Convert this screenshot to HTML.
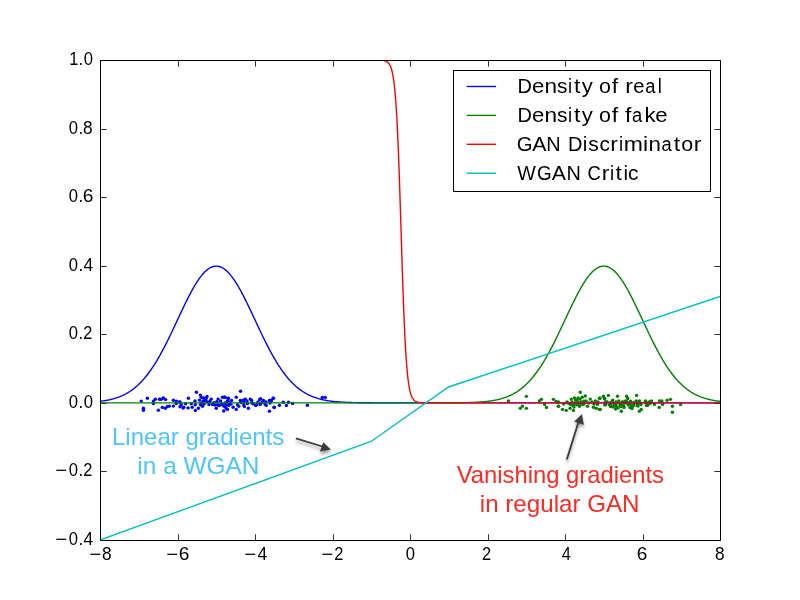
<!DOCTYPE html>
<html><head><meta charset="utf-8"><style>html,body{margin:0;padding:0;background:#fff;}svg{display:block;}</style></head><body><svg width="800" height="600" viewBox="0 0 800 600" style="will-change:transform"><rect width="800" height="600" fill="#fff"/><defs><clipPath id="ax"><rect x="100" y="60" width="620" height="480"/></clipPath><filter id="sh" x="-50%" y="-50%" width="200%" height="200%"><feGaussianBlur in="SourceAlpha" stdDeviation="1.5"/><feOffset dx="0" dy="2.5" result="b"/><feComponentTransfer><feFuncA type="linear" slope="0.35"/></feComponentTransfer><feMerge><feMergeNode/><feMergeNode in="SourceGraphic"/></feMerge></filter></defs><g clip-path="url(#ax)"><g fill="#0000ff"><circle cx="203.00" cy="401.00" r="1.7"/><circle cx="206.50" cy="401.50" r="1.7"/><circle cx="204.00" cy="404.00" r="1.7"/><circle cx="201.00" cy="403.00" r="1.7"/><circle cx="209.00" cy="404.50" r="1.7"/><circle cx="207.00" cy="396.50" r="1.7"/><circle cx="210.00" cy="401.00" r="1.7"/><circle cx="213.00" cy="404.00" r="1.7"/><circle cx="215.00" cy="405.00" r="1.7"/><circle cx="219.00" cy="405.50" r="1.7"/><circle cx="222.00" cy="404.00" r="1.7"/><circle cx="225.00" cy="403.00" r="1.7"/><circle cx="229.00" cy="402.00" r="1.7"/><circle cx="241.00" cy="402.50" r="1.7"/><circle cx="244.00" cy="402.00" r="1.7"/><circle cx="247.00" cy="401.00" r="1.7"/><circle cx="231.00" cy="404.00" r="1.7"/><circle cx="229.00" cy="403.00" r="1.7"/><circle cx="252.00" cy="403.00" r="1.7"/><circle cx="258.00" cy="402.00" r="1.7"/><circle cx="262.00" cy="402.50" r="1.7"/><circle cx="266.00" cy="402.00" r="1.7"/><circle cx="270.00" cy="403.00" r="1.7"/><circle cx="141.25" cy="401.10" r="1.7"/><circle cx="147.40" cy="398.30" r="1.7"/><circle cx="143.40" cy="408.30" r="1.7"/><circle cx="143.40" cy="410.20" r="1.7"/><circle cx="153.40" cy="401.10" r="1.7"/><circle cx="153.40" cy="403.60" r="1.7"/><circle cx="155.30" cy="399.25" r="1.7"/><circle cx="159.40" cy="399.25" r="1.7"/><circle cx="161.25" cy="399.25" r="1.7"/><circle cx="163.40" cy="398.00" r="1.7"/><circle cx="165.60" cy="399.60" r="1.7"/><circle cx="158.40" cy="410.20" r="1.7"/><circle cx="162.30" cy="407.40" r="1.7"/><circle cx="165.40" cy="408.30" r="1.7"/><circle cx="167.50" cy="406.40" r="1.7"/><circle cx="169.40" cy="406.10" r="1.7"/><circle cx="173.40" cy="400.20" r="1.7"/><circle cx="173.40" cy="406.10" r="1.7"/><circle cx="176.25" cy="401.10" r="1.7"/><circle cx="176.25" cy="403.60" r="1.7"/><circle cx="179.40" cy="402.00" r="1.7"/><circle cx="180.00" cy="406.75" r="1.7"/><circle cx="183.10" cy="408.00" r="1.7"/><circle cx="196.40" cy="392.25" r="1.7"/><circle cx="188.40" cy="398.20" r="1.7"/><circle cx="200.30" cy="395.10" r="1.7"/><circle cx="201.25" cy="397.25" r="1.7"/><circle cx="199.40" cy="400.10" r="1.7"/><circle cx="203.75" cy="397.90" r="1.7"/><circle cx="206.25" cy="398.20" r="1.7"/><circle cx="205.00" cy="400.40" r="1.7"/><circle cx="211.25" cy="399.10" r="1.7"/><circle cx="218.10" cy="399.10" r="1.7"/><circle cx="222.50" cy="397.25" r="1.7"/><circle cx="224.70" cy="397.25" r="1.7"/><circle cx="228.10" cy="398.50" r="1.7"/><circle cx="195.00" cy="401.00" r="1.7"/><circle cx="180.00" cy="402.00" r="1.7"/><circle cx="181.25" cy="404.75" r="1.7"/><circle cx="183.75" cy="407.25" r="1.7"/><circle cx="185.60" cy="403.80" r="1.7"/><circle cx="188.10" cy="407.90" r="1.7"/><circle cx="191.25" cy="403.80" r="1.7"/><circle cx="192.20" cy="407.25" r="1.7"/><circle cx="195.30" cy="404.75" r="1.7"/><circle cx="195.30" cy="410.40" r="1.7"/><circle cx="198.40" cy="408.20" r="1.7"/><circle cx="200.60" cy="404.75" r="1.7"/><circle cx="202.50" cy="406.30" r="1.7"/><circle cx="208.75" cy="402.60" r="1.7"/><circle cx="212.50" cy="404.40" r="1.7"/><circle cx="214.00" cy="402.60" r="1.7"/><circle cx="216.25" cy="408.20" r="1.7"/><circle cx="217.50" cy="404.75" r="1.7"/><circle cx="220.60" cy="404.75" r="1.7"/><circle cx="223.75" cy="406.00" r="1.7"/><circle cx="223.75" cy="411.00" r="1.7"/><circle cx="226.25" cy="408.50" r="1.7"/><circle cx="227.50" cy="401.60" r="1.7"/><circle cx="228.75" cy="404.75" r="1.7"/><circle cx="220.60" cy="401.00" r="1.7"/><circle cx="216.90" cy="401.60" r="1.7"/><circle cx="240.50" cy="391.30" r="1.7"/><circle cx="236.25" cy="397.25" r="1.7"/><circle cx="225.00" cy="397.25" r="1.7"/><circle cx="228.40" cy="398.20" r="1.7"/><circle cx="231.60" cy="400.40" r="1.7"/><circle cx="227.50" cy="401.00" r="1.7"/><circle cx="240.30" cy="400.40" r="1.7"/><circle cx="243.10" cy="400.10" r="1.7"/><circle cx="245.30" cy="399.10" r="1.7"/><circle cx="250.30" cy="399.10" r="1.7"/><circle cx="251.60" cy="400.40" r="1.7"/><circle cx="259.70" cy="399.40" r="1.7"/><circle cx="260.60" cy="398.80" r="1.7"/><circle cx="263.40" cy="400.40" r="1.7"/><circle cx="269.40" cy="400.40" r="1.7"/><circle cx="273.10" cy="398.20" r="1.7"/><circle cx="271.25" cy="400.40" r="1.7"/><circle cx="226.25" cy="404.75" r="1.7"/><circle cx="228.75" cy="405.40" r="1.7"/><circle cx="227.50" cy="409.40" r="1.7"/><circle cx="233.10" cy="407.25" r="1.7"/><circle cx="236.25" cy="409.40" r="1.7"/><circle cx="237.50" cy="404.75" r="1.7"/><circle cx="238.75" cy="406.30" r="1.7"/><circle cx="243.75" cy="404.75" r="1.7"/><circle cx="244.40" cy="406.60" r="1.7"/><circle cx="247.50" cy="403.50" r="1.7"/><circle cx="248.40" cy="408.20" r="1.7"/><circle cx="253.10" cy="403.80" r="1.7"/><circle cx="255.60" cy="405.40" r="1.7"/><circle cx="256.90" cy="404.75" r="1.7"/><circle cx="260.30" cy="404.40" r="1.7"/><circle cx="265.00" cy="404.10" r="1.7"/><circle cx="266.25" cy="405.40" r="1.7"/><circle cx="269.40" cy="411.30" r="1.7"/><circle cx="274.00" cy="407.25" r="1.7"/><circle cx="225.00" cy="406.60" r="1.7"/><circle cx="273.50" cy="398.25" r="1.7"/><circle cx="271.30" cy="400.40" r="1.7"/><circle cx="274.40" cy="407.40" r="1.7"/><circle cx="279.45" cy="405.25" r="1.7"/><circle cx="283.30" cy="402.20" r="1.7"/><circle cx="286.40" cy="405.40" r="1.7"/><circle cx="288.50" cy="402.20" r="1.7"/><circle cx="292.60" cy="403.50" r="1.7"/><circle cx="307.40" cy="405.25" r="1.7"/><circle cx="322.30" cy="397.40" r="1.7"/><circle cx="325.30" cy="397.40" r="1.7"/></g><g fill="#008000"><circle cx="607.00" cy="402.00" r="1.7"/><circle cx="610.00" cy="403.00" r="1.7"/><circle cx="612.00" cy="401.50" r="1.7"/><circle cx="611.00" cy="405.50" r="1.7"/><circle cx="614.00" cy="403.50" r="1.7"/><circle cx="616.00" cy="405.00" r="1.7"/><circle cx="617.00" cy="407.50" r="1.7"/><circle cx="613.00" cy="407.00" r="1.7"/><circle cx="616.00" cy="402.00" r="1.7"/><circle cx="619.00" cy="402.50" r="1.7"/><circle cx="620.00" cy="405.00" r="1.7"/><circle cx="622.00" cy="404.00" r="1.7"/><circle cx="625.00" cy="403.00" r="1.7"/><circle cx="621.00" cy="406.50" r="1.7"/><circle cx="624.00" cy="407.50" r="1.7"/><circle cx="626.00" cy="401.50" r="1.7"/><circle cx="627.00" cy="402.00" r="1.7"/><circle cx="629.00" cy="403.50" r="1.7"/><circle cx="631.00" cy="405.00" r="1.7"/><circle cx="630.00" cy="407.50" r="1.7"/><circle cx="633.00" cy="406.00" r="1.7"/><circle cx="634.00" cy="402.50" r="1.7"/><circle cx="632.00" cy="408.50" r="1.7"/><circle cx="636.00" cy="402.00" r="1.7"/><circle cx="638.00" cy="403.50" r="1.7"/><circle cx="640.00" cy="402.50" r="1.7"/><circle cx="641.00" cy="404.50" r="1.7"/><circle cx="637.00" cy="405.50" r="1.7"/><circle cx="645.00" cy="402.00" r="1.7"/><circle cx="647.00" cy="403.50" r="1.7"/><circle cx="649.00" cy="402.00" r="1.7"/><circle cx="648.00" cy="405.00" r="1.7"/><circle cx="572.00" cy="402.00" r="1.7"/><circle cx="575.00" cy="403.00" r="1.7"/><circle cx="578.00" cy="402.50" r="1.7"/><circle cx="581.00" cy="402.00" r="1.7"/><circle cx="570.00" cy="404.00" r="1.7"/><circle cx="577.00" cy="400.00" r="1.7"/><circle cx="584.00" cy="404.00" r="1.7"/><circle cx="586.00" cy="401.00" r="1.7"/><circle cx="568.00" cy="403.00" r="1.7"/><circle cx="574.00" cy="407.00" r="1.7"/><circle cx="580.00" cy="404.00" r="1.7"/><circle cx="592.00" cy="402.00" r="1.7"/><circle cx="598.00" cy="402.00" r="1.7"/><circle cx="594.00" cy="404.00" r="1.7"/><circle cx="556.00" cy="401.50" r="1.7"/><circle cx="508.40" cy="401.00" r="1.7"/><circle cx="526.40" cy="396.35" r="1.7"/><circle cx="522.35" cy="406.25" r="1.7"/><circle cx="520.25" cy="408.35" r="1.7"/><circle cx="526.40" cy="408.35" r="1.7"/><circle cx="539.40" cy="401.00" r="1.7"/><circle cx="541.40" cy="399.35" r="1.7"/><circle cx="544.60" cy="404.40" r="1.7"/><circle cx="546.50" cy="407.40" r="1.7"/><circle cx="553.40" cy="399.35" r="1.7"/><circle cx="557.00" cy="402.10" r="1.7"/><circle cx="558.50" cy="406.25" r="1.7"/><circle cx="580.30" cy="392.25" r="1.7"/><circle cx="585.30" cy="396.00" r="1.7"/><circle cx="582.20" cy="397.25" r="1.7"/><circle cx="578.10" cy="397.90" r="1.7"/><circle cx="574.40" cy="397.90" r="1.7"/><circle cx="571.25" cy="399.10" r="1.7"/><circle cx="575.60" cy="400.10" r="1.7"/><circle cx="580.00" cy="399.10" r="1.7"/><circle cx="590.30" cy="399.10" r="1.7"/><circle cx="599.40" cy="398.20" r="1.7"/><circle cx="603.40" cy="396.30" r="1.7"/><circle cx="604.40" cy="398.50" r="1.7"/><circle cx="595.30" cy="401.00" r="1.7"/><circle cx="558.40" cy="402.00" r="1.7"/><circle cx="566.90" cy="402.00" r="1.7"/><circle cx="558.40" cy="406.30" r="1.7"/><circle cx="562.50" cy="409.40" r="1.7"/><circle cx="563.75" cy="404.10" r="1.7"/><circle cx="566.25" cy="410.40" r="1.7"/><circle cx="570.00" cy="408.20" r="1.7"/><circle cx="571.25" cy="404.75" r="1.7"/><circle cx="573.40" cy="410.40" r="1.7"/><circle cx="573.75" cy="405.40" r="1.7"/><circle cx="576.90" cy="404.75" r="1.7"/><circle cx="579.40" cy="406.30" r="1.7"/><circle cx="582.50" cy="404.40" r="1.7"/><circle cx="583.75" cy="401.30" r="1.7"/><circle cx="587.50" cy="406.30" r="1.7"/><circle cx="588.75" cy="402.90" r="1.7"/><circle cx="593.40" cy="407.25" r="1.7"/><circle cx="596.25" cy="408.20" r="1.7"/><circle cx="597.50" cy="404.40" r="1.7"/><circle cx="599.40" cy="409.40" r="1.7"/><circle cx="604.70" cy="404.75" r="1.7"/><circle cx="608.40" cy="395.40" r="1.7"/><circle cx="604.70" cy="398.50" r="1.7"/><circle cx="617.50" cy="396.30" r="1.7"/><circle cx="626.60" cy="396.30" r="1.7"/><circle cx="627.80" cy="398.50" r="1.7"/><circle cx="636.60" cy="395.40" r="1.7"/><circle cx="612.80" cy="400.10" r="1.7"/><circle cx="618.75" cy="401.00" r="1.7"/><circle cx="622.50" cy="401.60" r="1.7"/><circle cx="625.60" cy="401.00" r="1.7"/><circle cx="630.60" cy="401.30" r="1.7"/><circle cx="636.25" cy="401.00" r="1.7"/><circle cx="639.40" cy="401.00" r="1.7"/><circle cx="645.60" cy="401.00" r="1.7"/><circle cx="605.60" cy="401.60" r="1.7"/><circle cx="605.60" cy="404.75" r="1.7"/><circle cx="609.40" cy="404.75" r="1.7"/><circle cx="610.60" cy="406.60" r="1.7"/><circle cx="614.40" cy="406.00" r="1.7"/><circle cx="615.60" cy="409.10" r="1.7"/><circle cx="618.10" cy="407.90" r="1.7"/><circle cx="621.25" cy="411.30" r="1.7"/><circle cx="623.75" cy="406.00" r="1.7"/><circle cx="628.10" cy="404.75" r="1.7"/><circle cx="631.25" cy="407.25" r="1.7"/><circle cx="633.75" cy="404.75" r="1.7"/><circle cx="638.10" cy="406.00" r="1.7"/><circle cx="641.25" cy="409.40" r="1.7"/><circle cx="639.40" cy="411.30" r="1.7"/><circle cx="646.60" cy="405.40" r="1.7"/><circle cx="600.30" cy="409.40" r="1.7"/><circle cx="600.00" cy="398.20" r="1.7"/><circle cx="646.90" cy="405.50" r="1.7"/><circle cx="651.40" cy="401.00" r="1.7"/><circle cx="650.25" cy="403.25" r="1.7"/><circle cx="654.40" cy="404.40" r="1.7"/><circle cx="659.60" cy="401.00" r="1.7"/><circle cx="661.90" cy="401.00" r="1.7"/><circle cx="662.60" cy="404.40" r="1.7"/><circle cx="659.25" cy="407.40" r="1.7"/><circle cx="667.10" cy="400.25" r="1.7"/><circle cx="670.50" cy="399.35" r="1.7"/><circle cx="672.40" cy="406.25" r="1.7"/><circle cx="672.40" cy="412.25" r="1.7"/><circle cx="680.60" cy="404.40" r="1.7"/></g><path d="M100.00,401.34 L100.77,401.24 L101.55,401.15 L102.32,401.04 L103.10,400.93 L103.87,400.82 L104.65,400.69 L105.42,400.57 L106.20,400.43 L106.97,400.29 L107.75,400.14 L108.52,399.99 L109.30,399.82 L110.07,399.65 L110.85,399.47 L111.62,399.28 L112.40,399.09 L113.17,398.88 L113.95,398.66 L114.72,398.44 L115.50,398.20 L116.28,397.95 L117.05,397.69 L117.83,397.42 L118.60,397.14 L119.38,396.85 L120.15,396.54 L120.92,396.22 L121.70,395.89 L122.47,395.54 L123.25,395.18 L124.03,394.80 L124.80,394.41 L125.58,394.01 L126.35,393.58 L127.12,393.15 L127.90,392.69 L128.68,392.22 L129.45,391.73 L130.23,391.22 L131.00,390.69 L131.78,390.15 L132.55,389.59 L133.33,389.00 L134.10,388.40 L134.88,387.78 L135.65,387.13 L136.42,386.47 L137.20,385.78 L137.98,385.08 L138.75,384.35 L139.52,383.59 L140.30,382.82 L141.08,382.02 L141.85,381.20 L142.62,380.36 L143.40,379.49 L144.17,378.60 L144.95,377.69 L145.72,376.75 L146.50,375.79 L147.27,374.80 L148.05,373.79 L148.82,372.76 L149.60,371.70 L150.38,370.61 L151.15,369.50 L151.93,368.37 L152.70,367.21 L153.47,366.03 L154.25,364.83 L155.03,363.60 L155.80,362.35 L156.57,361.07 L157.35,359.77 L158.12,358.45 L158.90,357.11 L159.68,355.74 L160.45,354.36 L161.22,352.95 L162.00,351.52 L162.78,350.07 L163.55,348.61 L164.32,347.12 L165.10,345.62 L165.88,344.10 L166.65,342.57 L167.43,341.02 L168.20,339.45 L168.98,337.87 L169.75,336.28 L170.53,334.68 L171.30,333.06 L172.08,331.44 L172.85,329.80 L173.62,328.16 L174.40,326.52 L175.17,324.87 L175.95,323.21 L176.73,321.55 L177.50,319.90 L178.27,318.24 L179.05,316.58 L179.83,314.92 L180.60,313.27 L181.38,311.63 L182.15,309.99 L182.93,308.36 L183.70,306.74 L184.47,305.13 L185.25,303.53 L186.03,301.95 L186.80,300.39 L187.57,298.84 L188.35,297.31 L189.12,295.80 L189.90,294.31 L190.68,292.85 L191.45,291.41 L192.22,289.99 L193.00,288.61 L193.77,287.25 L194.55,285.93 L195.32,284.63 L196.10,283.37 L196.88,282.15 L197.65,280.96 L198.43,279.81 L199.20,278.70 L199.98,277.62 L200.75,276.59 L201.53,275.60 L202.30,274.66 L203.07,273.76 L203.85,272.90 L204.62,272.10 L205.40,271.33 L206.18,270.62 L206.95,269.96 L207.72,269.35 L208.50,268.79 L209.28,268.27 L210.05,267.82 L210.82,267.41 L211.60,267.06 L212.38,266.76 L213.15,266.51 L213.92,266.32 L214.70,266.19 L215.48,266.10 L216.25,266.08 L217.02,266.10 L217.80,266.19 L218.58,266.32 L219.35,266.51 L220.12,266.76 L220.90,267.06 L221.68,267.41 L222.45,267.82 L223.22,268.27 L224.00,268.79 L224.78,269.35 L225.55,269.96 L226.32,270.62 L227.10,271.33 L227.88,272.10 L228.65,272.90 L229.42,273.76 L230.20,274.66 L230.97,275.60 L231.75,276.59 L232.53,277.62 L233.30,278.70 L234.07,279.81 L234.85,280.96 L235.62,282.15 L236.40,283.37 L237.18,284.63 L237.95,285.93 L238.72,287.25 L239.50,288.61 L240.28,289.99 L241.05,291.41 L241.83,292.85 L242.60,294.31 L243.38,295.80 L244.15,297.31 L244.93,298.84 L245.70,300.39 L246.47,301.95 L247.25,303.53 L248.03,305.13 L248.80,306.74 L249.57,308.36 L250.35,309.99 L251.12,311.63 L251.90,313.27 L252.67,314.92 L253.45,316.58 L254.23,318.24 L255.00,319.90 L255.77,321.55 L256.55,323.21 L257.32,324.87 L258.10,326.52 L258.88,328.16 L259.65,329.80 L260.42,331.44 L261.20,333.06 L261.98,334.68 L262.75,336.28 L263.52,337.87 L264.30,339.45 L265.07,341.02 L265.85,342.57 L266.62,344.10 L267.40,345.62 L268.17,347.12 L268.95,348.61 L269.73,350.07 L270.50,351.52 L271.27,352.95 L272.05,354.36 L272.82,355.74 L273.60,357.11 L274.38,358.45 L275.15,359.77 L275.93,361.07 L276.70,362.35 L277.48,363.60 L278.25,364.83 L279.02,366.03 L279.80,367.21 L280.58,368.37 L281.35,369.50 L282.12,370.61 L282.90,371.70 L283.68,372.76 L284.45,373.79 L285.23,374.80 L286.00,375.79 L286.77,376.75 L287.55,377.69 L288.33,378.60 L289.10,379.49 L289.88,380.36 L290.65,381.20 L291.43,382.02 L292.20,382.82 L292.98,383.59 L293.75,384.35 L294.52,385.08 L295.30,385.78 L296.07,386.47 L296.85,387.13 L297.62,387.78 L298.40,388.40 L299.17,389.00 L299.95,389.59 L300.73,390.15 L301.50,390.69 L302.27,391.22 L303.05,391.73 L303.82,392.22 L304.60,392.69 L305.38,393.15 L306.15,393.58 L306.92,394.01 L307.70,394.41 L308.48,394.80 L309.25,395.18 L310.02,395.54 L310.80,395.89 L311.57,396.22 L312.35,396.54 L313.12,396.85 L313.90,397.14 L314.68,397.42 L315.45,397.69 L316.23,397.95 L317.00,398.20 L317.77,398.44 L318.55,398.66 L319.33,398.88 L320.10,399.09 L320.88,399.28 L321.65,399.47 L322.43,399.65 L323.20,399.82 L323.98,399.99 L324.75,400.14 L325.52,400.29 L326.30,400.43 L327.08,400.57 L327.85,400.69 L328.62,400.82 L329.40,400.93 L330.18,401.04 L330.95,401.15 L331.73,401.24 L332.50,401.34 L333.27,401.43 L334.05,401.51 L334.82,401.59 L335.60,401.67 L336.38,401.74 L337.15,401.80 L337.92,401.87 L338.70,401.93 L339.48,401.99 L340.25,402.04 L341.02,402.09 L341.80,402.14 L342.57,402.18 L343.35,402.23 L344.12,402.27 L344.90,402.30 L345.67,402.34 L346.45,402.37 L347.23,402.41 L348.00,402.43 L348.77,402.46 L349.55,402.49 L350.32,402.51 L351.10,402.54 L351.88,402.56 L352.65,402.58 L353.43,402.60 L354.20,402.62 L354.98,402.63 L355.75,402.65 L356.52,402.66 L357.30,402.68 L358.07,402.69 L358.85,402.70 L359.62,402.71 L360.40,402.72 L361.18,402.73 L361.95,402.74 L362.73,402.75 L363.50,402.76 L364.28,402.76 L365.05,402.77 L365.82,402.78 L366.60,402.78 L367.38,402.79 L368.15,402.79 L368.93,402.80 L369.70,402.80 L370.48,402.81 L371.25,402.81 L372.02,402.81 L372.80,402.82 L373.57,402.82 L374.35,402.82 L375.12,402.83 L375.90,402.83 L376.68,402.83 L377.45,402.83 L378.22,402.84 L379.00,402.84 L379.77,402.84 L380.55,402.84 L381.32,402.84 L382.10,402.84 L382.88,402.84 L383.65,402.85 L384.43,402.85 L385.20,402.85 L385.98,402.85 L386.75,402.85 L387.52,402.85 L388.30,402.85 L389.07,402.85 L389.85,402.85 L390.62,402.85 L391.40,402.85 L392.18,402.85 L392.95,402.85 L393.73,402.85 L394.50,402.85 L395.27,402.85 L396.05,402.85 L396.82,402.85 L397.60,402.85 L398.38,402.85 L399.15,402.86 L399.93,402.86 L400.70,402.86 L401.48,402.86 L402.25,402.86 L403.03,402.86 L403.80,402.86 L404.57,402.86 L405.35,402.86 L406.12,402.86 L406.90,402.86 L407.68,402.86 L408.45,402.86 L409.23,402.86 L410.00,402.86 L410.77,402.86 L411.55,402.86 L412.33,402.86 L413.10,402.86 L413.88,402.86 L414.65,402.86 L415.43,402.86 L416.20,402.86 L416.97,402.86 L417.75,402.86 L418.53,402.86 L419.30,402.86 L420.07,402.86 L420.85,402.86 L421.62,402.86 L422.40,402.86 L423.18,402.86 L423.95,402.86 L424.73,402.86 L425.50,402.86 L426.27,402.86 L427.05,402.86 L427.83,402.86 L428.60,402.86 L429.38,402.86 L430.15,402.86 L430.92,402.86 L431.70,402.86 L432.48,402.86 L433.25,402.86 L434.02,402.86 L434.80,402.86 L435.57,402.86 L436.35,402.86 L437.12,402.86 L437.90,402.86 L438.68,402.86 L439.45,402.86 L440.22,402.86 L441.00,402.86 L441.78,402.86 L442.55,402.86 L443.32,402.86 L444.10,402.86 L444.88,402.86 L445.65,402.86 L446.42,402.86 L447.20,402.86 L447.98,402.86 L448.75,402.86 L449.52,402.86 L450.30,402.86 L451.08,402.86 L451.85,402.86 L452.62,402.86 L453.40,402.86 L454.18,402.86 L454.95,402.86 L455.72,402.86 L456.50,402.86 L457.28,402.86 L458.05,402.86 L458.82,402.86 L459.60,402.86 L460.38,402.86 L461.15,402.86 L461.93,402.86 L462.70,402.86 L463.48,402.86 L464.25,402.86 L465.02,402.86 L465.80,402.86 L466.58,402.86 L467.35,402.86 L468.12,402.86 L468.90,402.86 L469.67,402.86 L470.45,402.86 L471.23,402.86 L472.00,402.86 L472.77,402.86 L473.55,402.86 L474.32,402.86 L475.10,402.86 L475.88,402.86 L476.65,402.86 L477.43,402.86 L478.20,402.86 L478.97,402.86 L479.75,402.86 L480.53,402.86 L481.30,402.86 L482.07,402.86 L482.85,402.86 L483.62,402.86 L484.40,402.86 L485.17,402.86 L485.95,402.86 L486.73,402.86 L487.50,402.86 L488.27,402.86 L489.05,402.86 L489.83,402.86 L490.60,402.86 L491.38,402.86 L492.15,402.86 L492.93,402.86 L493.70,402.86 L494.47,402.86 L495.25,402.86 L496.03,402.86 L496.80,402.86 L497.57,402.86 L498.35,402.86 L499.12,402.86 L499.90,402.86 L500.68,402.86 L501.45,402.86 L502.23,402.86 L503.00,402.86 L503.77,402.86 L504.55,402.86 L505.33,402.86 L506.10,402.86 L506.88,402.86 L507.65,402.86 L508.42,402.86 L509.20,402.86 L509.98,402.86 L510.75,402.86 L511.52,402.86 L512.30,402.86 L513.08,402.86 L513.85,402.86 L514.62,402.86 L515.40,402.86 L516.17,402.86 L516.95,402.86 L517.72,402.86 L518.50,402.86 L519.28,402.86 L520.05,402.86 L520.83,402.86 L521.60,402.86 L522.38,402.86 L523.15,402.86 L523.92,402.86 L524.70,402.86 L525.48,402.86 L526.25,402.86 L527.02,402.86 L527.80,402.86 L528.58,402.86 L529.35,402.86 L530.12,402.86 L530.90,402.86 L531.67,402.86 L532.45,402.86 L533.22,402.86 L534.00,402.86 L534.78,402.86 L535.55,402.86 L536.33,402.86 L537.10,402.86 L537.88,402.86 L538.65,402.86 L539.42,402.86 L540.20,402.86 L540.98,402.86 L541.75,402.86 L542.52,402.86 L543.30,402.86 L544.08,402.86 L544.85,402.86 L545.62,402.86 L546.40,402.86 L547.17,402.86 L547.95,402.86 L548.73,402.86 L549.50,402.86 L550.27,402.86 L551.05,402.86 L551.83,402.86 L552.60,402.86 L553.38,402.86 L554.15,402.86 L554.92,402.86 L555.70,402.86 L556.47,402.86 L557.25,402.86 L558.03,402.86 L558.80,402.86 L559.58,402.86 L560.35,402.86 L561.12,402.86 L561.90,402.86 L562.67,402.86 L563.45,402.86 L564.23,402.86 L565.00,402.86 L565.77,402.86 L566.55,402.86 L567.33,402.86 L568.10,402.86 L568.88,402.86 L569.65,402.86 L570.42,402.86 L571.20,402.86 L571.97,402.86 L572.75,402.86 L573.53,402.86 L574.30,402.86 L575.08,402.86 L575.85,402.86 L576.62,402.86 L577.40,402.86 L578.17,402.86 L578.95,402.86 L579.73,402.86 L580.50,402.86 L581.27,402.86 L582.05,402.86 L582.83,402.86 L583.60,402.86 L584.38,402.86 L585.15,402.86 L585.92,402.86 L586.70,402.86 L587.48,402.86 L588.25,402.86 L589.02,402.86 L589.80,402.86 L590.58,402.86 L591.35,402.86 L592.12,402.86 L592.90,402.86 L593.67,402.86 L594.45,402.86 L595.22,402.86 L596.00,402.86 L596.78,402.86 L597.55,402.86 L598.33,402.86 L599.10,402.86 L599.88,402.86 L600.65,402.86 L601.42,402.86 L602.20,402.86 L602.98,402.86 L603.75,402.86 L604.52,402.86 L605.30,402.86 L606.08,402.86 L606.85,402.86 L607.62,402.86 L608.40,402.86 L609.17,402.86 L609.95,402.86 L610.72,402.86 L611.50,402.86 L612.27,402.86 L613.05,402.86 L613.83,402.86 L614.60,402.86 L615.38,402.86 L616.15,402.86 L616.92,402.86 L617.70,402.86 L618.48,402.86 L619.25,402.86 L620.02,402.86 L620.80,402.86 L621.58,402.86 L622.35,402.86 L623.12,402.86 L623.90,402.86 L624.67,402.86 L625.45,402.86 L626.23,402.86 L627.00,402.86 L627.77,402.86 L628.55,402.86 L629.33,402.86 L630.10,402.86 L630.88,402.86 L631.65,402.86 L632.42,402.86 L633.20,402.86 L633.98,402.86 L634.75,402.86 L635.52,402.86 L636.30,402.86 L637.07,402.86 L637.85,402.86 L638.62,402.86 L639.40,402.86 L640.17,402.86 L640.95,402.86 L641.73,402.86 L642.50,402.86 L643.27,402.86 L644.05,402.86 L644.83,402.86 L645.60,402.86 L646.38,402.86 L647.15,402.86 L647.93,402.86 L648.70,402.86 L649.48,402.86 L650.25,402.86 L651.02,402.86 L651.80,402.86 L652.58,402.86 L653.35,402.86 L654.12,402.86 L654.90,402.86 L655.67,402.86 L656.45,402.86 L657.23,402.86 L658.00,402.86 L658.77,402.86 L659.55,402.86 L660.33,402.86 L661.10,402.86 L661.88,402.86 L662.65,402.86 L663.42,402.86 L664.20,402.86 L664.98,402.86 L665.75,402.86 L666.52,402.86 L667.30,402.86 L668.08,402.86 L668.85,402.86 L669.62,402.86 L670.40,402.86 L671.17,402.86 L671.95,402.86 L672.73,402.86 L673.50,402.86 L674.27,402.86 L675.05,402.86 L675.82,402.86 L676.60,402.86 L677.38,402.86 L678.15,402.86 L678.92,402.86 L679.70,402.86 L680.48,402.86 L681.25,402.86 L682.02,402.86 L682.80,402.86 L683.58,402.86 L684.35,402.86 L685.12,402.86 L685.90,402.86 L686.68,402.86 L687.45,402.86 L688.23,402.86 L689.00,402.86 L689.77,402.86 L690.55,402.86 L691.33,402.86 L692.10,402.86 L692.88,402.86 L693.65,402.86 L694.42,402.86 L695.20,402.86 L695.98,402.86 L696.75,402.86 L697.52,402.86 L698.30,402.86 L699.08,402.86 L699.85,402.86 L700.62,402.86 L701.40,402.86 L702.17,402.86 L702.95,402.86 L703.73,402.86 L704.50,402.86 L705.27,402.86 L706.05,402.86 L706.83,402.86 L707.60,402.86 L708.38,402.86 L709.15,402.86 L709.92,402.86 L710.70,402.86 L711.48,402.86 L712.25,402.86 L713.02,402.86 L713.80,402.86 L714.57,402.86 L715.35,402.86 L716.12,402.86 L716.90,402.86 L717.67,402.86 L718.45,402.86 L719.23,402.86 L720.00,402.86" fill="none" stroke="#0000ff" stroke-width="1.39"/><path d="M100.00,402.86 L100.77,402.86 L101.55,402.86 L102.32,402.86 L103.10,402.86 L103.87,402.86 L104.65,402.86 L105.42,402.86 L106.20,402.86 L106.97,402.86 L107.75,402.86 L108.52,402.86 L109.30,402.86 L110.07,402.86 L110.85,402.86 L111.62,402.86 L112.40,402.86 L113.17,402.86 L113.95,402.86 L114.72,402.86 L115.50,402.86 L116.28,402.86 L117.05,402.86 L117.83,402.86 L118.60,402.86 L119.38,402.86 L120.15,402.86 L120.92,402.86 L121.70,402.86 L122.47,402.86 L123.25,402.86 L124.03,402.86 L124.80,402.86 L125.58,402.86 L126.35,402.86 L127.12,402.86 L127.90,402.86 L128.68,402.86 L129.45,402.86 L130.23,402.86 L131.00,402.86 L131.78,402.86 L132.55,402.86 L133.33,402.86 L134.10,402.86 L134.88,402.86 L135.65,402.86 L136.42,402.86 L137.20,402.86 L137.98,402.86 L138.75,402.86 L139.52,402.86 L140.30,402.86 L141.08,402.86 L141.85,402.86 L142.62,402.86 L143.40,402.86 L144.17,402.86 L144.95,402.86 L145.72,402.86 L146.50,402.86 L147.27,402.86 L148.05,402.86 L148.82,402.86 L149.60,402.86 L150.38,402.86 L151.15,402.86 L151.93,402.86 L152.70,402.86 L153.47,402.86 L154.25,402.86 L155.03,402.86 L155.80,402.86 L156.57,402.86 L157.35,402.86 L158.12,402.86 L158.90,402.86 L159.68,402.86 L160.45,402.86 L161.22,402.86 L162.00,402.86 L162.78,402.86 L163.55,402.86 L164.32,402.86 L165.10,402.86 L165.88,402.86 L166.65,402.86 L167.43,402.86 L168.20,402.86 L168.98,402.86 L169.75,402.86 L170.53,402.86 L171.30,402.86 L172.08,402.86 L172.85,402.86 L173.62,402.86 L174.40,402.86 L175.17,402.86 L175.95,402.86 L176.73,402.86 L177.50,402.86 L178.27,402.86 L179.05,402.86 L179.83,402.86 L180.60,402.86 L181.38,402.86 L182.15,402.86 L182.93,402.86 L183.70,402.86 L184.47,402.86 L185.25,402.86 L186.03,402.86 L186.80,402.86 L187.57,402.86 L188.35,402.86 L189.12,402.86 L189.90,402.86 L190.68,402.86 L191.45,402.86 L192.22,402.86 L193.00,402.86 L193.77,402.86 L194.55,402.86 L195.32,402.86 L196.10,402.86 L196.88,402.86 L197.65,402.86 L198.43,402.86 L199.20,402.86 L199.98,402.86 L200.75,402.86 L201.53,402.86 L202.30,402.86 L203.07,402.86 L203.85,402.86 L204.62,402.86 L205.40,402.86 L206.18,402.86 L206.95,402.86 L207.72,402.86 L208.50,402.86 L209.28,402.86 L210.05,402.86 L210.82,402.86 L211.60,402.86 L212.38,402.86 L213.15,402.86 L213.92,402.86 L214.70,402.86 L215.48,402.86 L216.25,402.86 L217.02,402.86 L217.80,402.86 L218.58,402.86 L219.35,402.86 L220.12,402.86 L220.90,402.86 L221.68,402.86 L222.45,402.86 L223.22,402.86 L224.00,402.86 L224.78,402.86 L225.55,402.86 L226.32,402.86 L227.10,402.86 L227.88,402.86 L228.65,402.86 L229.42,402.86 L230.20,402.86 L230.97,402.86 L231.75,402.86 L232.53,402.86 L233.30,402.86 L234.07,402.86 L234.85,402.86 L235.62,402.86 L236.40,402.86 L237.18,402.86 L237.95,402.86 L238.72,402.86 L239.50,402.86 L240.28,402.86 L241.05,402.86 L241.83,402.86 L242.60,402.86 L243.38,402.86 L244.15,402.86 L244.93,402.86 L245.70,402.86 L246.47,402.86 L247.25,402.86 L248.03,402.86 L248.80,402.86 L249.57,402.86 L250.35,402.86 L251.12,402.86 L251.90,402.86 L252.67,402.86 L253.45,402.86 L254.23,402.86 L255.00,402.86 L255.77,402.86 L256.55,402.86 L257.32,402.86 L258.10,402.86 L258.88,402.86 L259.65,402.86 L260.42,402.86 L261.20,402.86 L261.98,402.86 L262.75,402.86 L263.52,402.86 L264.30,402.86 L265.07,402.86 L265.85,402.86 L266.62,402.86 L267.40,402.86 L268.17,402.86 L268.95,402.86 L269.73,402.86 L270.50,402.86 L271.27,402.86 L272.05,402.86 L272.82,402.86 L273.60,402.86 L274.38,402.86 L275.15,402.86 L275.93,402.86 L276.70,402.86 L277.48,402.86 L278.25,402.86 L279.02,402.86 L279.80,402.86 L280.58,402.86 L281.35,402.86 L282.12,402.86 L282.90,402.86 L283.68,402.86 L284.45,402.86 L285.23,402.86 L286.00,402.86 L286.77,402.86 L287.55,402.86 L288.33,402.86 L289.10,402.86 L289.88,402.86 L290.65,402.86 L291.43,402.86 L292.20,402.86 L292.98,402.86 L293.75,402.86 L294.52,402.86 L295.30,402.86 L296.07,402.86 L296.85,402.86 L297.62,402.86 L298.40,402.86 L299.17,402.86 L299.95,402.86 L300.73,402.86 L301.50,402.86 L302.27,402.86 L303.05,402.86 L303.82,402.86 L304.60,402.86 L305.38,402.86 L306.15,402.86 L306.92,402.86 L307.70,402.86 L308.48,402.86 L309.25,402.86 L310.02,402.86 L310.80,402.86 L311.57,402.86 L312.35,402.86 L313.12,402.86 L313.90,402.86 L314.68,402.86 L315.45,402.86 L316.23,402.86 L317.00,402.86 L317.77,402.86 L318.55,402.86 L319.33,402.86 L320.10,402.86 L320.88,402.86 L321.65,402.86 L322.43,402.86 L323.20,402.86 L323.98,402.86 L324.75,402.86 L325.52,402.86 L326.30,402.86 L327.08,402.86 L327.85,402.86 L328.62,402.86 L329.40,402.86 L330.18,402.86 L330.95,402.86 L331.73,402.86 L332.50,402.86 L333.27,402.86 L334.05,402.86 L334.82,402.86 L335.60,402.86 L336.38,402.86 L337.15,402.86 L337.92,402.86 L338.70,402.86 L339.48,402.86 L340.25,402.86 L341.02,402.86 L341.80,402.86 L342.57,402.86 L343.35,402.86 L344.12,402.86 L344.90,402.86 L345.67,402.86 L346.45,402.86 L347.23,402.86 L348.00,402.86 L348.77,402.86 L349.55,402.86 L350.32,402.86 L351.10,402.86 L351.88,402.86 L352.65,402.86 L353.43,402.86 L354.20,402.86 L354.98,402.86 L355.75,402.86 L356.52,402.86 L357.30,402.86 L358.07,402.86 L358.85,402.86 L359.62,402.86 L360.40,402.86 L361.18,402.86 L361.95,402.86 L362.73,402.86 L363.50,402.86 L364.28,402.86 L365.05,402.86 L365.82,402.86 L366.60,402.86 L367.38,402.86 L368.15,402.86 L368.93,402.86 L369.70,402.86 L370.48,402.86 L371.25,402.86 L372.02,402.86 L372.80,402.86 L373.57,402.86 L374.35,402.86 L375.12,402.86 L375.90,402.86 L376.68,402.86 L377.45,402.86 L378.22,402.86 L379.00,402.86 L379.77,402.86 L380.55,402.86 L381.32,402.86 L382.10,402.86 L382.88,402.86 L383.65,402.86 L384.43,402.86 L385.20,402.86 L385.98,402.86 L386.75,402.86 L387.52,402.86 L388.30,402.86 L389.07,402.86 L389.85,402.86 L390.62,402.86 L391.40,402.86 L392.18,402.86 L392.95,402.86 L393.73,402.86 L394.50,402.86 L395.27,402.86 L396.05,402.86 L396.82,402.86 L397.60,402.86 L398.38,402.86 L399.15,402.86 L399.93,402.86 L400.70,402.86 L401.48,402.86 L402.25,402.86 L403.03,402.86 L403.80,402.86 L404.57,402.86 L405.35,402.86 L406.12,402.86 L406.90,402.86 L407.68,402.86 L408.45,402.86 L409.23,402.86 L410.00,402.86 L410.77,402.86 L411.55,402.86 L412.33,402.86 L413.10,402.86 L413.88,402.86 L414.65,402.86 L415.43,402.86 L416.20,402.86 L416.97,402.86 L417.75,402.86 L418.53,402.86 L419.30,402.86 L420.07,402.86 L420.85,402.86 L421.62,402.85 L422.40,402.85 L423.18,402.85 L423.95,402.85 L424.73,402.85 L425.50,402.85 L426.27,402.85 L427.05,402.85 L427.83,402.85 L428.60,402.85 L429.38,402.85 L430.15,402.85 L430.92,402.85 L431.70,402.85 L432.48,402.85 L433.25,402.85 L434.02,402.85 L434.80,402.85 L435.57,402.85 L436.35,402.85 L437.12,402.84 L437.90,402.84 L438.68,402.84 L439.45,402.84 L440.22,402.84 L441.00,402.84 L441.78,402.84 L442.55,402.83 L443.32,402.83 L444.10,402.83 L444.88,402.83 L445.65,402.82 L446.42,402.82 L447.20,402.82 L447.98,402.81 L448.75,402.81 L449.52,402.81 L450.30,402.80 L451.08,402.80 L451.85,402.79 L452.62,402.79 L453.40,402.78 L454.18,402.78 L454.95,402.77 L455.72,402.76 L456.50,402.76 L457.28,402.75 L458.05,402.74 L458.82,402.73 L459.60,402.72 L460.38,402.71 L461.15,402.70 L461.93,402.69 L462.70,402.68 L463.48,402.66 L464.25,402.65 L465.02,402.63 L465.80,402.62 L466.58,402.60 L467.35,402.58 L468.12,402.56 L468.90,402.54 L469.67,402.51 L470.45,402.49 L471.23,402.46 L472.00,402.43 L472.77,402.41 L473.55,402.37 L474.32,402.34 L475.10,402.30 L475.88,402.27 L476.65,402.23 L477.43,402.18 L478.20,402.14 L478.97,402.09 L479.75,402.04 L480.53,401.99 L481.30,401.93 L482.07,401.87 L482.85,401.80 L483.62,401.74 L484.40,401.67 L485.17,401.59 L485.95,401.51 L486.73,401.43 L487.50,401.34 L488.27,401.24 L489.05,401.15 L489.83,401.04 L490.60,400.93 L491.38,400.82 L492.15,400.69 L492.93,400.57 L493.70,400.43 L494.47,400.29 L495.25,400.14 L496.03,399.99 L496.80,399.82 L497.57,399.65 L498.35,399.47 L499.12,399.28 L499.90,399.09 L500.68,398.88 L501.45,398.66 L502.23,398.44 L503.00,398.20 L503.77,397.95 L504.55,397.69 L505.33,397.42 L506.10,397.14 L506.88,396.85 L507.65,396.54 L508.42,396.22 L509.20,395.89 L509.98,395.54 L510.75,395.18 L511.52,394.80 L512.30,394.41 L513.08,394.01 L513.85,393.58 L514.62,393.15 L515.40,392.69 L516.17,392.22 L516.95,391.73 L517.72,391.22 L518.50,390.69 L519.28,390.15 L520.05,389.59 L520.83,389.00 L521.60,388.40 L522.38,387.78 L523.15,387.13 L523.92,386.47 L524.70,385.78 L525.48,385.08 L526.25,384.35 L527.02,383.59 L527.80,382.82 L528.58,382.02 L529.35,381.20 L530.12,380.36 L530.90,379.49 L531.67,378.60 L532.45,377.69 L533.22,376.75 L534.00,375.79 L534.78,374.80 L535.55,373.79 L536.33,372.76 L537.10,371.70 L537.88,370.61 L538.65,369.50 L539.42,368.37 L540.20,367.21 L540.98,366.03 L541.75,364.83 L542.52,363.60 L543.30,362.35 L544.08,361.07 L544.85,359.77 L545.62,358.45 L546.40,357.11 L547.17,355.74 L547.95,354.36 L548.73,352.95 L549.50,351.52 L550.27,350.07 L551.05,348.61 L551.83,347.12 L552.60,345.62 L553.38,344.10 L554.15,342.57 L554.92,341.02 L555.70,339.45 L556.47,337.87 L557.25,336.28 L558.03,334.68 L558.80,333.06 L559.58,331.44 L560.35,329.80 L561.12,328.16 L561.90,326.52 L562.67,324.87 L563.45,323.21 L564.23,321.55 L565.00,319.90 L565.77,318.24 L566.55,316.58 L567.33,314.92 L568.10,313.27 L568.88,311.63 L569.65,309.99 L570.42,308.36 L571.20,306.74 L571.97,305.13 L572.75,303.53 L573.53,301.95 L574.30,300.39 L575.08,298.84 L575.85,297.31 L576.62,295.80 L577.40,294.31 L578.17,292.85 L578.95,291.41 L579.73,289.99 L580.50,288.61 L581.27,287.25 L582.05,285.93 L582.83,284.63 L583.60,283.37 L584.38,282.15 L585.15,280.96 L585.92,279.81 L586.70,278.70 L587.48,277.62 L588.25,276.59 L589.02,275.60 L589.80,274.66 L590.58,273.76 L591.35,272.90 L592.12,272.10 L592.90,271.33 L593.67,270.62 L594.45,269.96 L595.22,269.35 L596.00,268.79 L596.78,268.27 L597.55,267.82 L598.33,267.41 L599.10,267.06 L599.88,266.76 L600.65,266.51 L601.42,266.32 L602.20,266.19 L602.98,266.10 L603.75,266.08 L604.52,266.10 L605.30,266.19 L606.08,266.32 L606.85,266.51 L607.62,266.76 L608.40,267.06 L609.17,267.41 L609.95,267.82 L610.72,268.27 L611.50,268.79 L612.27,269.35 L613.05,269.96 L613.83,270.62 L614.60,271.33 L615.38,272.10 L616.15,272.90 L616.92,273.76 L617.70,274.66 L618.48,275.60 L619.25,276.59 L620.02,277.62 L620.80,278.70 L621.58,279.81 L622.35,280.96 L623.12,282.15 L623.90,283.37 L624.67,284.63 L625.45,285.93 L626.23,287.25 L627.00,288.61 L627.77,289.99 L628.55,291.41 L629.33,292.85 L630.10,294.31 L630.88,295.80 L631.65,297.31 L632.42,298.84 L633.20,300.39 L633.98,301.95 L634.75,303.53 L635.52,305.13 L636.30,306.74 L637.07,308.36 L637.85,309.99 L638.62,311.63 L639.40,313.27 L640.17,314.92 L640.95,316.58 L641.73,318.24 L642.50,319.90 L643.27,321.55 L644.05,323.21 L644.83,324.87 L645.60,326.52 L646.38,328.16 L647.15,329.80 L647.93,331.44 L648.70,333.06 L649.48,334.68 L650.25,336.28 L651.02,337.87 L651.80,339.45 L652.58,341.02 L653.35,342.57 L654.12,344.10 L654.90,345.62 L655.67,347.12 L656.45,348.61 L657.23,350.07 L658.00,351.52 L658.77,352.95 L659.55,354.36 L660.33,355.74 L661.10,357.11 L661.88,358.45 L662.65,359.77 L663.42,361.07 L664.20,362.35 L664.98,363.60 L665.75,364.83 L666.52,366.03 L667.30,367.21 L668.08,368.37 L668.85,369.50 L669.62,370.61 L670.40,371.70 L671.17,372.76 L671.95,373.79 L672.73,374.80 L673.50,375.79 L674.27,376.75 L675.05,377.69 L675.82,378.60 L676.60,379.49 L677.38,380.36 L678.15,381.20 L678.92,382.02 L679.70,382.82 L680.48,383.59 L681.25,384.35 L682.02,385.08 L682.80,385.78 L683.58,386.47 L684.35,387.13 L685.12,387.78 L685.90,388.40 L686.68,389.00 L687.45,389.59 L688.23,390.15 L689.00,390.69 L689.77,391.22 L690.55,391.73 L691.33,392.22 L692.10,392.69 L692.88,393.15 L693.65,393.58 L694.42,394.01 L695.20,394.41 L695.98,394.80 L696.75,395.18 L697.52,395.54 L698.30,395.89 L699.08,396.22 L699.85,396.54 L700.62,396.85 L701.40,397.14 L702.17,397.42 L702.95,397.69 L703.73,397.95 L704.50,398.20 L705.27,398.44 L706.05,398.66 L706.83,398.88 L707.60,399.09 L708.38,399.28 L709.15,399.47 L709.92,399.65 L710.70,399.82 L711.48,399.99 L712.25,400.14 L713.02,400.29 L713.80,400.43 L714.57,400.57 L715.35,400.69 L716.12,400.82 L716.90,400.93 L717.67,401.04 L718.45,401.15 L719.23,401.24 L720.00,401.34" fill="none" stroke="#008000" stroke-width="1.39"/><path d="M100.00,60.00 L100.39,60.00 L100.77,60.00 L101.16,60.00 L101.55,60.00 L101.94,60.00 L102.32,60.00 L102.71,60.00 L103.10,60.00 L103.49,60.00 L103.87,60.00 L104.26,60.00 L104.65,60.00 L105.04,60.00 L105.42,60.00 L105.81,60.00 L106.20,60.00 L106.59,60.00 L106.97,60.00 L107.36,60.00 L107.75,60.00 L108.14,60.00 L108.52,60.00 L108.91,60.00 L109.30,60.00 L109.69,60.00 L110.07,60.00 L110.46,60.00 L110.85,60.00 L111.24,60.00 L111.62,60.00 L112.01,60.00 L112.40,60.00 L112.79,60.00 L113.17,60.00 L113.56,60.00 L113.95,60.00 L114.34,60.00 L114.72,60.00 L115.11,60.00 L115.50,60.00 L115.89,60.00 L116.28,60.00 L116.66,60.00 L117.05,60.00 L117.44,60.00 L117.83,60.00 L118.21,60.00 L118.60,60.00 L118.99,60.00 L119.38,60.00 L119.76,60.00 L120.15,60.00 L120.54,60.00 L120.92,60.00 L121.31,60.00 L121.70,60.00 L122.09,60.00 L122.47,60.00 L122.86,60.00 L123.25,60.00 L123.64,60.00 L124.03,60.00 L124.41,60.00 L124.80,60.00 L125.19,60.00 L125.58,60.00 L125.96,60.00 L126.35,60.00 L126.74,60.00 L127.12,60.00 L127.51,60.00 L127.90,60.00 L128.29,60.00 L128.68,60.00 L129.06,60.00 L129.45,60.00 L129.84,60.00 L130.23,60.00 L130.61,60.00 L131.00,60.00 L131.39,60.00 L131.78,60.00 L132.16,60.00 L132.55,60.00 L132.94,60.00 L133.33,60.00 L133.71,60.00 L134.10,60.00 L134.49,60.00 L134.88,60.00 L135.26,60.00 L135.65,60.00 L136.04,60.00 L136.42,60.00 L136.81,60.00 L137.20,60.00 L137.59,60.00 L137.98,60.00 L138.36,60.00 L138.75,60.00 L139.14,60.00 L139.52,60.00 L139.91,60.00 L140.30,60.00 L140.69,60.00 L141.08,60.00 L141.46,60.00 L141.85,60.00 L142.24,60.00 L142.62,60.00 L143.01,60.00 L143.40,60.00 L143.79,60.00 L144.17,60.00 L144.56,60.00 L144.95,60.00 L145.34,60.00 L145.72,60.00 L146.11,60.00 L146.50,60.00 L146.89,60.00 L147.27,60.00 L147.66,60.00 L148.05,60.00 L148.44,60.00 L148.82,60.00 L149.21,60.00 L149.60,60.00 L149.99,60.00 L150.38,60.00 L150.76,60.00 L151.15,60.00 L151.54,60.00 L151.93,60.00 L152.31,60.00 L152.70,60.00 L153.09,60.00 L153.47,60.00 L153.86,60.00 L154.25,60.00 L154.64,60.00 L155.03,60.00 L155.41,60.00 L155.80,60.00 L156.19,60.00 L156.57,60.00 L156.96,60.00 L157.35,60.00 L157.74,60.00 L158.12,60.00 L158.51,60.00 L158.90,60.00 L159.29,60.00 L159.68,60.00 L160.06,60.00 L160.45,60.00 L160.84,60.00 L161.22,60.00 L161.61,60.00 L162.00,60.00 L162.39,60.00 L162.78,60.00 L163.16,60.00 L163.55,60.00 L163.94,60.00 L164.32,60.00 L164.71,60.00 L165.10,60.00 L165.49,60.00 L165.88,60.00 L166.26,60.00 L166.65,60.00 L167.04,60.00 L167.43,60.00 L167.81,60.00 L168.20,60.00 L168.59,60.00 L168.98,60.00 L169.36,60.00 L169.75,60.00 L170.14,60.00 L170.53,60.00 L170.91,60.00 L171.30,60.00 L171.69,60.00 L172.08,60.00 L172.46,60.00 L172.85,60.00 L173.24,60.00 L173.62,60.00 L174.01,60.00 L174.40,60.00 L174.79,60.00 L175.17,60.00 L175.56,60.00 L175.95,60.00 L176.34,60.00 L176.73,60.00 L177.11,60.00 L177.50,60.00 L177.89,60.00 L178.27,60.00 L178.66,60.00 L179.05,60.00 L179.44,60.00 L179.83,60.00 L180.21,60.00 L180.60,60.00 L180.99,60.00 L181.38,60.00 L181.76,60.00 L182.15,60.00 L182.54,60.00 L182.93,60.00 L183.31,60.00 L183.70,60.00 L184.09,60.00 L184.47,60.00 L184.86,60.00 L185.25,60.00 L185.64,60.00 L186.03,60.00 L186.41,60.00 L186.80,60.00 L187.19,60.00 L187.57,60.00 L187.96,60.00 L188.35,60.00 L188.74,60.00 L189.12,60.00 L189.51,60.00 L189.90,60.00 L190.29,60.00 L190.68,60.00 L191.06,60.00 L191.45,60.00 L191.84,60.00 L192.22,60.00 L192.61,60.00 L193.00,60.00 L193.39,60.00 L193.77,60.00 L194.16,60.00 L194.55,60.00 L194.94,60.00 L195.32,60.00 L195.71,60.00 L196.10,60.00 L196.49,60.00 L196.88,60.00 L197.26,60.00 L197.65,60.00 L198.04,60.00 L198.43,60.00 L198.81,60.00 L199.20,60.00 L199.59,60.00 L199.98,60.00 L200.36,60.00 L200.75,60.00 L201.14,60.00 L201.53,60.00 L201.91,60.00 L202.30,60.00 L202.69,60.00 L203.07,60.00 L203.46,60.00 L203.85,60.00 L204.24,60.00 L204.62,60.00 L205.01,60.00 L205.40,60.00 L205.79,60.00 L206.18,60.00 L206.56,60.00 L206.95,60.00 L207.34,60.00 L207.72,60.00 L208.11,60.00 L208.50,60.00 L208.89,60.00 L209.28,60.00 L209.66,60.00 L210.05,60.00 L210.44,60.00 L210.82,60.00 L211.21,60.00 L211.60,60.00 L211.99,60.00 L212.38,60.00 L212.76,60.00 L213.15,60.00 L213.54,60.00 L213.92,60.00 L214.31,60.00 L214.70,60.00 L215.09,60.00 L215.48,60.00 L215.86,60.00 L216.25,60.00 L216.64,60.00 L217.02,60.00 L217.41,60.00 L217.80,60.00 L218.19,60.00 L218.58,60.00 L218.96,60.00 L219.35,60.00 L219.74,60.00 L220.12,60.00 L220.51,60.00 L220.90,60.00 L221.29,60.00 L221.68,60.00 L222.06,60.00 L222.45,60.00 L222.84,60.00 L223.22,60.00 L223.61,60.00 L224.00,60.00 L224.39,60.00 L224.78,60.00 L225.16,60.00 L225.55,60.00 L225.94,60.00 L226.32,60.00 L226.71,60.00 L227.10,60.00 L227.49,60.00 L227.88,60.00 L228.26,60.00 L228.65,60.00 L229.04,60.00 L229.42,60.00 L229.81,60.00 L230.20,60.00 L230.59,60.00 L230.97,60.00 L231.36,60.00 L231.75,60.00 L232.14,60.00 L232.53,60.00 L232.91,60.00 L233.30,60.00 L233.69,60.00 L234.07,60.00 L234.46,60.00 L234.85,60.00 L235.24,60.00 L235.62,60.00 L236.01,60.00 L236.40,60.00 L236.79,60.00 L237.18,60.00 L237.56,60.00 L237.95,60.00 L238.34,60.00 L238.72,60.00 L239.11,60.00 L239.50,60.00 L239.89,60.00 L240.28,60.00 L240.66,60.00 L241.05,60.00 L241.44,60.00 L241.83,60.00 L242.21,60.00 L242.60,60.00 L242.99,60.00 L243.38,60.00 L243.76,60.00 L244.15,60.00 L244.54,60.00 L244.93,60.00 L245.31,60.00 L245.70,60.00 L246.09,60.00 L246.47,60.00 L246.86,60.00 L247.25,60.00 L247.64,60.00 L248.03,60.00 L248.41,60.00 L248.80,60.00 L249.19,60.00 L249.57,60.00 L249.96,60.00 L250.35,60.00 L250.74,60.00 L251.12,60.00 L251.51,60.00 L251.90,60.00 L252.29,60.00 L252.67,60.00 L253.06,60.00 L253.45,60.00 L253.84,60.00 L254.23,60.00 L254.61,60.00 L255.00,60.00 L255.39,60.00 L255.77,60.00 L256.16,60.00 L256.55,60.00 L256.94,60.00 L257.32,60.00 L257.71,60.00 L258.10,60.00 L258.49,60.00 L258.88,60.00 L259.26,60.00 L259.65,60.00 L260.04,60.00 L260.42,60.00 L260.81,60.00 L261.20,60.00 L261.59,60.00 L261.98,60.00 L262.36,60.00 L262.75,60.00 L263.14,60.00 L263.52,60.00 L263.91,60.00 L264.30,60.00 L264.69,60.00 L265.07,60.00 L265.46,60.00 L265.85,60.00 L266.24,60.00 L266.62,60.00 L267.01,60.00 L267.40,60.00 L267.79,60.00 L268.17,60.00 L268.56,60.00 L268.95,60.00 L269.34,60.00 L269.73,60.00 L270.11,60.00 L270.50,60.00 L270.89,60.00 L271.27,60.00 L271.66,60.00 L272.05,60.00 L272.44,60.00 L272.82,60.00 L273.21,60.00 L273.60,60.00 L273.99,60.00 L274.38,60.00 L274.76,60.00 L275.15,60.00 L275.54,60.00 L275.93,60.00 L276.31,60.00 L276.70,60.00 L277.09,60.00 L277.48,60.00 L277.86,60.00 L278.25,60.00 L278.64,60.00 L279.02,60.00 L279.41,60.00 L279.80,60.00 L280.19,60.00 L280.58,60.00 L280.96,60.00 L281.35,60.00 L281.74,60.00 L282.12,60.00 L282.51,60.00 L282.90,60.00 L283.29,60.00 L283.68,60.00 L284.06,60.00 L284.45,60.00 L284.84,60.00 L285.23,60.00 L285.61,60.00 L286.00,60.00 L286.39,60.00 L286.77,60.00 L287.16,60.00 L287.55,60.00 L287.94,60.00 L288.33,60.00 L288.71,60.00 L289.10,60.00 L289.49,60.00 L289.88,60.00 L290.26,60.00 L290.65,60.00 L291.04,60.00 L291.43,60.00 L291.81,60.00 L292.20,60.00 L292.59,60.00 L292.98,60.00 L293.36,60.00 L293.75,60.00 L294.14,60.00 L294.52,60.00 L294.91,60.00 L295.30,60.00 L295.69,60.00 L296.07,60.00 L296.46,60.00 L296.85,60.00 L297.24,60.00 L297.62,60.00 L298.01,60.00 L298.40,60.00 L298.79,60.00 L299.17,60.00 L299.56,60.00 L299.95,60.00 L300.34,60.00 L300.73,60.00 L301.11,60.00 L301.50,60.00 L301.89,60.00 L302.27,60.00 L302.66,60.00 L303.05,60.00 L303.44,60.00 L303.82,60.00 L304.21,60.00 L304.60,60.00 L304.99,60.00 L305.38,60.00 L305.76,60.00 L306.15,60.00 L306.54,60.00 L306.92,60.00 L307.31,60.00 L307.70,60.00 L308.09,60.00 L308.48,60.00 L308.86,60.00 L309.25,60.00 L309.64,60.00 L310.02,60.00 L310.41,60.00 L310.80,60.00 L311.19,60.00 L311.57,60.00 L311.96,60.00 L312.35,60.00 L312.74,60.00 L313.12,60.00 L313.51,60.00 L313.90,60.00 L314.29,60.00 L314.68,60.00 L315.06,60.00 L315.45,60.00 L315.84,60.00 L316.23,60.00 L316.61,60.00 L317.00,60.00 L317.39,60.00 L317.77,60.00 L318.16,60.00 L318.55,60.00 L318.94,60.00 L319.33,60.00 L319.71,60.00 L320.10,60.00 L320.49,60.00 L320.88,60.00 L321.26,60.00 L321.65,60.00 L322.04,60.00 L322.43,60.00 L322.81,60.00 L323.20,60.00 L323.59,60.00 L323.98,60.00 L324.36,60.00 L324.75,60.00 L325.14,60.00 L325.52,60.00 L325.91,60.00 L326.30,60.00 L326.69,60.00 L327.08,60.00 L327.46,60.00 L327.85,60.00 L328.24,60.00 L328.62,60.00 L329.01,60.00 L329.40,60.00 L329.79,60.00 L330.18,60.00 L330.56,60.00 L330.95,60.00 L331.34,60.00 L331.73,60.00 L332.11,60.00 L332.50,60.00 L332.89,60.00 L333.27,60.00 L333.66,60.00 L334.05,60.00 L334.44,60.00 L334.82,60.00 L335.21,60.00 L335.60,60.00 L335.99,60.00 L336.38,60.00 L336.76,60.00 L337.15,60.00 L337.54,60.00 L337.92,60.00 L338.31,60.00 L338.70,60.00 L339.09,60.00 L339.48,60.00 L339.86,60.00 L340.25,60.00 L340.64,60.00 L341.02,60.00 L341.41,60.00 L341.80,60.00 L342.19,60.00 L342.57,60.00 L342.96,60.00 L343.35,60.00 L343.74,60.00 L344.12,60.00 L344.51,60.00 L344.90,60.00 L345.29,60.00 L345.67,60.00 L346.06,60.00 L346.45,60.00 L346.84,60.00 L347.23,60.00 L347.61,60.00 L348.00,60.00 L348.39,60.00 L348.77,60.00 L349.16,60.00 L349.55,60.00 L349.94,60.00 L350.32,60.00 L350.71,60.00 L351.10,60.00 L351.49,60.00 L351.88,60.00 L352.26,60.00 L352.65,60.00 L353.04,60.00 L353.43,60.00 L353.81,60.00 L354.20,60.00 L354.59,60.00 L354.98,60.00 L355.36,60.00 L355.75,60.00 L356.14,60.00 L356.52,60.00 L356.91,60.00 L357.30,60.00 L357.69,60.00 L358.07,60.00 L358.46,60.00 L358.85,60.00 L359.24,60.00 L359.62,60.00 L360.01,60.00 L360.40,60.00 L360.79,60.00 L361.18,60.00 L361.56,60.00 L361.95,60.00 L362.34,60.00 L362.73,60.00 L363.11,60.00 L363.50,60.00 L363.89,60.00 L364.28,60.00 L364.66,60.00 L365.05,60.00 L365.44,60.00 L365.82,60.00 L366.21,60.00 L366.60,60.00 L366.99,60.00 L367.38,60.00 L367.76,60.00 L368.15,60.00 L368.54,60.00 L368.93,60.00 L369.31,60.00 L369.70,60.00 L370.09,60.00 L370.48,60.00 L370.86,60.00 L371.25,60.00 L371.64,60.01 L372.02,60.01 L372.41,60.01 L372.80,60.01 L373.19,60.01 L373.57,60.01 L373.96,60.01 L374.35,60.02 L374.74,60.02 L375.12,60.02 L375.51,60.02 L375.90,60.03 L376.29,60.03 L376.68,60.04 L377.06,60.04 L377.45,60.05 L377.84,60.06 L378.22,60.07 L378.61,60.08 L379.00,60.09 L379.39,60.10 L379.77,60.12 L380.16,60.14 L380.55,60.16 L380.94,60.18 L381.32,60.21 L381.71,60.24 L382.10,60.28 L382.49,60.33 L382.88,60.38 L383.26,60.43 L383.65,60.50 L384.04,60.58 L384.43,60.67 L384.81,60.77 L385.20,60.90 L385.59,61.03 L385.98,61.20 L386.36,61.38 L386.75,61.60 L387.14,61.84 L387.52,62.13 L387.91,62.46 L388.30,62.84 L388.69,63.28 L389.07,63.79 L389.46,64.37 L389.85,65.04 L390.24,65.81 L390.62,66.70 L391.01,67.73 L391.40,68.90 L391.79,70.25 L392.18,71.79 L392.56,73.56 L392.95,75.58 L393.34,77.88 L393.73,80.50 L394.11,83.48 L394.50,86.86 L394.89,90.68 L395.27,94.98 L395.66,99.80 L396.05,105.19 L396.44,111.19 L396.82,117.83 L397.21,125.14 L397.60,133.14 L397.99,141.83 L398.38,151.20 L398.76,161.23 L399.15,171.87 L399.54,183.06 L399.93,194.72 L400.31,206.74 L400.70,219.02 L401.09,231.43 L401.48,243.84 L401.86,256.11 L402.25,268.14 L402.64,279.79 L403.03,290.99 L403.41,301.63 L403.80,311.66 L404.19,321.03 L404.57,329.72 L404.96,337.71 L405.35,345.02 L405.74,351.66 L406.12,357.66 L406.51,363.06 L406.90,367.88 L407.29,372.18 L407.68,375.99 L408.06,379.37 L408.45,382.35 L408.84,384.98 L409.23,387.28 L409.61,389.30 L410.00,391.07 L410.39,392.61 L410.77,393.96 L411.16,395.13 L411.55,396.15 L411.94,397.04 L412.33,397.82 L412.71,398.49 L413.10,399.07 L413.49,399.58 L413.88,400.02 L414.26,400.40 L414.65,400.73 L415.04,401.01 L415.43,401.26 L415.81,401.48 L416.20,401.66 L416.59,401.82 L416.97,401.96 L417.36,402.08 L417.75,402.19 L418.14,402.28 L418.53,402.36 L418.91,402.42 L419.30,402.48 L419.69,402.53 L420.07,402.58 L420.46,402.61 L420.85,402.65 L421.24,402.68 L421.62,402.70 L422.01,402.72 L422.40,402.74 L422.79,402.76 L423.18,402.77 L423.56,402.78 L423.95,402.79 L424.34,402.80 L424.73,402.81 L425.11,402.81 L425.50,402.82 L425.89,402.83 L426.27,402.83 L426.66,402.83 L427.05,402.84 L427.44,402.84 L427.83,402.84 L428.21,402.84 L428.60,402.85 L428.99,402.85 L429.38,402.85 L429.76,402.85 L430.15,402.85 L430.54,402.85 L430.92,402.85 L431.31,402.85 L431.70,402.85 L432.09,402.85 L432.48,402.85 L432.86,402.85 L433.25,402.86 L433.64,402.86 L434.02,402.86 L434.41,402.86 L434.80,402.86 L435.19,402.86 L435.57,402.86 L435.96,402.86 L436.35,402.86 L436.74,402.86 L437.12,402.86 L437.51,402.86 L437.90,402.86 L438.29,402.86 L438.68,402.86 L439.06,402.86 L439.45,402.86 L439.84,402.86 L440.22,402.86 L440.61,402.86 L441.00,402.86 L441.39,402.86 L441.78,402.86 L442.16,402.86 L442.55,402.86 L442.94,402.86 L443.32,402.86 L443.71,402.86 L444.10,402.86 L444.49,402.86 L444.88,402.86 L445.26,402.86 L445.65,402.86 L446.04,402.86 L446.42,402.86 L446.81,402.86 L447.20,402.86 L447.59,402.86 L447.98,402.86 L448.36,402.86 L448.75,402.86 L449.14,402.86 L449.52,402.86 L449.91,402.86 L450.30,402.86 L450.69,402.86 L451.08,402.86 L451.46,402.86 L451.85,402.86 L452.24,402.86 L452.62,402.86 L453.01,402.86 L453.40,402.86 L453.79,402.86 L454.18,402.86 L454.56,402.86 L454.95,402.86 L455.34,402.86 L455.72,402.86 L456.11,402.86 L456.50,402.86 L456.89,402.86 L457.28,402.86 L457.66,402.86 L458.05,402.86 L458.44,402.86 L458.82,402.86 L459.21,402.86 L459.60,402.86 L459.99,402.86 L460.38,402.86 L460.76,402.86 L461.15,402.86 L461.54,402.86 L461.93,402.86 L462.31,402.86 L462.70,402.86 L463.09,402.86 L463.48,402.86 L463.86,402.86 L464.25,402.86 L464.64,402.86 L465.02,402.86 L465.41,402.86 L465.80,402.86 L466.19,402.86 L466.58,402.86 L466.96,402.86 L467.35,402.86 L467.74,402.86 L468.12,402.86 L468.51,402.86 L468.90,402.86 L469.29,402.86 L469.67,402.86 L470.06,402.86 L470.45,402.86 L470.84,402.86 L471.23,402.86 L471.61,402.86 L472.00,402.86 L472.39,402.86 L472.77,402.86 L473.16,402.86 L473.55,402.86 L473.94,402.86 L474.32,402.86 L474.71,402.86 L475.10,402.86 L475.49,402.86 L475.88,402.86 L476.26,402.86 L476.65,402.86 L477.04,402.86 L477.43,402.86 L477.81,402.86 L478.20,402.86 L478.59,402.86 L478.97,402.86 L479.36,402.86 L479.75,402.86 L480.14,402.86 L480.53,402.86 L480.91,402.86 L481.30,402.86 L481.69,402.86 L482.07,402.86 L482.46,402.86 L482.85,402.86 L483.24,402.86 L483.62,402.86 L484.01,402.86 L484.40,402.86 L484.79,402.86 L485.17,402.86 L485.56,402.86 L485.95,402.86 L486.34,402.86 L486.73,402.86 L487.11,402.86 L487.50,402.86 L487.89,402.86 L488.27,402.86 L488.66,402.86 L489.05,402.86 L489.44,402.86 L489.83,402.86 L490.21,402.86 L490.60,402.86 L490.99,402.86 L491.38,402.86 L491.76,402.86 L492.15,402.86 L492.54,402.86 L492.93,402.86 L493.31,402.86 L493.70,402.86 L494.09,402.86 L494.47,402.86 L494.86,402.86 L495.25,402.86 L495.64,402.86 L496.03,402.86 L496.41,402.86 L496.80,402.86 L497.19,402.86 L497.57,402.86 L497.96,402.86 L498.35,402.86 L498.74,402.86 L499.12,402.86 L499.51,402.86 L499.90,402.86 L500.29,402.86 L500.68,402.86 L501.06,402.86 L501.45,402.86 L501.84,402.86 L502.23,402.86 L502.61,402.86 L503.00,402.86 L503.39,402.86 L503.77,402.86 L504.16,402.86 L504.55,402.86 L504.94,402.86 L505.33,402.86 L505.71,402.86 L506.10,402.86 L506.49,402.86 L506.88,402.86 L507.26,402.86 L507.65,402.86 L508.04,402.86 L508.42,402.86 L508.81,402.86 L509.20,402.86 L509.59,402.86 L509.98,402.86 L510.36,402.86 L510.75,402.86 L511.14,402.86 L511.52,402.86 L511.91,402.86 L512.30,402.86 L512.69,402.86 L513.08,402.86 L513.46,402.86 L513.85,402.86 L514.24,402.86 L514.62,402.86 L515.01,402.86 L515.40,402.86 L515.79,402.86 L516.17,402.86 L516.56,402.86 L516.95,402.86 L517.34,402.86 L517.72,402.86 L518.11,402.86 L518.50,402.86 L518.89,402.86 L519.28,402.86 L519.66,402.86 L520.05,402.86 L520.44,402.86 L520.83,402.86 L521.21,402.86 L521.60,402.86 L521.99,402.86 L522.38,402.86 L522.76,402.86 L523.15,402.86 L523.54,402.86 L523.92,402.86 L524.31,402.86 L524.70,402.86 L525.09,402.86 L525.48,402.86 L525.86,402.86 L526.25,402.86 L526.64,402.86 L527.02,402.86 L527.41,402.86 L527.80,402.86 L528.19,402.86 L528.58,402.86 L528.96,402.86 L529.35,402.86 L529.74,402.86 L530.12,402.86 L530.51,402.86 L530.90,402.86 L531.29,402.86 L531.67,402.86 L532.06,402.86 L532.45,402.86 L532.84,402.86 L533.22,402.86 L533.61,402.86 L534.00,402.86 L534.39,402.86 L534.78,402.86 L535.16,402.86 L535.55,402.86 L535.94,402.86 L536.33,402.86 L536.71,402.86 L537.10,402.86 L537.49,402.86 L537.88,402.86 L538.26,402.86 L538.65,402.86 L539.04,402.86 L539.42,402.86 L539.81,402.86 L540.20,402.86 L540.59,402.86 L540.98,402.86 L541.36,402.86 L541.75,402.86 L542.14,402.86 L542.52,402.86 L542.91,402.86 L543.30,402.86 L543.69,402.86 L544.08,402.86 L544.46,402.86 L544.85,402.86 L545.24,402.86 L545.62,402.86 L546.01,402.86 L546.40,402.86 L546.79,402.86 L547.17,402.86 L547.56,402.86 L547.95,402.86 L548.34,402.86 L548.73,402.86 L549.11,402.86 L549.50,402.86 L549.89,402.86 L550.27,402.86 L550.66,402.86 L551.05,402.86 L551.44,402.86 L551.83,402.86 L552.21,402.86 L552.60,402.86 L552.99,402.86 L553.38,402.86 L553.76,402.86 L554.15,402.86 L554.54,402.86 L554.92,402.86 L555.31,402.86 L555.70,402.86 L556.09,402.86 L556.47,402.86 L556.86,402.86 L557.25,402.86 L557.64,402.86 L558.03,402.86 L558.41,402.86 L558.80,402.86 L559.19,402.86 L559.58,402.86 L559.96,402.86 L560.35,402.86 L560.74,402.86 L561.12,402.86 L561.51,402.86 L561.90,402.86 L562.29,402.86 L562.67,402.86 L563.06,402.86 L563.45,402.86 L563.84,402.86 L564.23,402.86 L564.61,402.86 L565.00,402.86 L565.39,402.86 L565.77,402.86 L566.16,402.86 L566.55,402.86 L566.94,402.86 L567.33,402.86 L567.71,402.86 L568.10,402.86 L568.49,402.86 L568.88,402.86 L569.26,402.86 L569.65,402.86 L570.04,402.86 L570.42,402.86 L570.81,402.86 L571.20,402.86 L571.59,402.86 L571.97,402.86 L572.36,402.86 L572.75,402.86 L573.14,402.86 L573.53,402.86 L573.91,402.86 L574.30,402.86 L574.69,402.86 L575.08,402.86 L575.46,402.86 L575.85,402.86 L576.24,402.86 L576.62,402.86 L577.01,402.86 L577.40,402.86 L577.79,402.86 L578.17,402.86 L578.56,402.86 L578.95,402.86 L579.34,402.86 L579.73,402.86 L580.11,402.86 L580.50,402.86 L580.89,402.86 L581.27,402.86 L581.66,402.86 L582.05,402.86 L582.44,402.86 L582.83,402.86 L583.21,402.86 L583.60,402.86 L583.99,402.86 L584.38,402.86 L584.76,402.86 L585.15,402.86 L585.54,402.86 L585.92,402.86 L586.31,402.86 L586.70,402.86 L587.09,402.86 L587.48,402.86 L587.86,402.86 L588.25,402.86 L588.64,402.86 L589.02,402.86 L589.41,402.86 L589.80,402.86 L590.19,402.86 L590.58,402.86 L590.96,402.86 L591.35,402.86 L591.74,402.86 L592.12,402.86 L592.51,402.86 L592.90,402.86 L593.29,402.86 L593.67,402.86 L594.06,402.86 L594.45,402.86 L594.84,402.86 L595.22,402.86 L595.61,402.86 L596.00,402.86 L596.39,402.86 L596.78,402.86 L597.16,402.86 L597.55,402.86 L597.94,402.86 L598.33,402.86 L598.71,402.86 L599.10,402.86 L599.49,402.86 L599.88,402.86 L600.26,402.86 L600.65,402.86 L601.04,402.86 L601.42,402.86 L601.81,402.86 L602.20,402.86 L602.59,402.86 L602.98,402.86 L603.36,402.86 L603.75,402.86 L604.14,402.86 L604.52,402.86 L604.91,402.86 L605.30,402.86 L605.69,402.86 L606.08,402.86 L606.46,402.86 L606.85,402.86 L607.24,402.86 L607.62,402.86 L608.01,402.86 L608.40,402.86 L608.79,402.86 L609.17,402.86 L609.56,402.86 L609.95,402.86 L610.34,402.86 L610.72,402.86 L611.11,402.86 L611.50,402.86 L611.89,402.86 L612.27,402.86 L612.66,402.86 L613.05,402.86 L613.44,402.86 L613.83,402.86 L614.21,402.86 L614.60,402.86 L614.99,402.86 L615.38,402.86 L615.76,402.86 L616.15,402.86 L616.54,402.86 L616.92,402.86 L617.31,402.86 L617.70,402.86 L618.09,402.86 L618.48,402.86 L618.86,402.86 L619.25,402.86 L619.64,402.86 L620.02,402.86 L620.41,402.86 L620.80,402.86 L621.19,402.86 L621.58,402.86 L621.96,402.86 L622.35,402.86 L622.74,402.86 L623.12,402.86 L623.51,402.86 L623.90,402.86 L624.29,402.86 L624.67,402.86 L625.06,402.86 L625.45,402.86 L625.84,402.86 L626.23,402.86 L626.61,402.86 L627.00,402.86 L627.39,402.86 L627.77,402.86 L628.16,402.86 L628.55,402.86 L628.94,402.86 L629.33,402.86 L629.71,402.86 L630.10,402.86 L630.49,402.86 L630.88,402.86 L631.26,402.86 L631.65,402.86 L632.04,402.86 L632.42,402.86 L632.81,402.86 L633.20,402.86 L633.59,402.86 L633.98,402.86 L634.36,402.86 L634.75,402.86 L635.14,402.86 L635.52,402.86 L635.91,402.86 L636.30,402.86 L636.69,402.86 L637.07,402.86 L637.46,402.86 L637.85,402.86 L638.24,402.86 L638.62,402.86 L639.01,402.86 L639.40,402.86 L639.79,402.86 L640.17,402.86 L640.56,402.86 L640.95,402.86 L641.34,402.86 L641.73,402.86 L642.11,402.86 L642.50,402.86 L642.89,402.86 L643.27,402.86 L643.66,402.86 L644.05,402.86 L644.44,402.86 L644.83,402.86 L645.21,402.86 L645.60,402.86 L645.99,402.86 L646.38,402.86 L646.76,402.86 L647.15,402.86 L647.54,402.86 L647.93,402.86 L648.31,402.86 L648.70,402.86 L649.09,402.86 L649.48,402.86 L649.86,402.86 L650.25,402.86 L650.64,402.86 L651.02,402.86 L651.41,402.86 L651.80,402.86 L652.19,402.86 L652.58,402.86 L652.96,402.86 L653.35,402.86 L653.74,402.86 L654.12,402.86 L654.51,402.86 L654.90,402.86 L655.29,402.86 L655.67,402.86 L656.06,402.86 L656.45,402.86 L656.84,402.86 L657.23,402.86 L657.61,402.86 L658.00,402.86 L658.39,402.86 L658.77,402.86 L659.16,402.86 L659.55,402.86 L659.94,402.86 L660.33,402.86 L660.71,402.86 L661.10,402.86 L661.49,402.86 L661.88,402.86 L662.26,402.86 L662.65,402.86 L663.04,402.86 L663.42,402.86 L663.81,402.86 L664.20,402.86 L664.59,402.86 L664.98,402.86 L665.36,402.86 L665.75,402.86 L666.14,402.86 L666.52,402.86 L666.91,402.86 L667.30,402.86 L667.69,402.86 L668.08,402.86 L668.46,402.86 L668.85,402.86 L669.24,402.86 L669.62,402.86 L670.01,402.86 L670.40,402.86 L670.79,402.86 L671.17,402.86 L671.56,402.86 L671.95,402.86 L672.34,402.86 L672.73,402.86 L673.11,402.86 L673.50,402.86 L673.89,402.86 L674.27,402.86 L674.66,402.86 L675.05,402.86 L675.44,402.86 L675.82,402.86 L676.21,402.86 L676.60,402.86 L676.99,402.86 L677.38,402.86 L677.76,402.86 L678.15,402.86 L678.54,402.86 L678.92,402.86 L679.31,402.86 L679.70,402.86 L680.09,402.86 L680.48,402.86 L680.86,402.86 L681.25,402.86 L681.64,402.86 L682.02,402.86 L682.41,402.86 L682.80,402.86 L683.19,402.86 L683.58,402.86 L683.96,402.86 L684.35,402.86 L684.74,402.86 L685.12,402.86 L685.51,402.86 L685.90,402.86 L686.29,402.86 L686.68,402.86 L687.06,402.86 L687.45,402.86 L687.84,402.86 L688.23,402.86 L688.61,402.86 L689.00,402.86 L689.39,402.86 L689.77,402.86 L690.16,402.86 L690.55,402.86 L690.94,402.86 L691.33,402.86 L691.71,402.86 L692.10,402.86 L692.49,402.86 L692.88,402.86 L693.26,402.86 L693.65,402.86 L694.04,402.86 L694.42,402.86 L694.81,402.86 L695.20,402.86 L695.59,402.86 L695.98,402.86 L696.36,402.86 L696.75,402.86 L697.14,402.86 L697.52,402.86 L697.91,402.86 L698.30,402.86 L698.69,402.86 L699.08,402.86 L699.46,402.86 L699.85,402.86 L700.24,402.86 L700.62,402.86 L701.01,402.86 L701.40,402.86 L701.79,402.86 L702.17,402.86 L702.56,402.86 L702.95,402.86 L703.34,402.86 L703.73,402.86 L704.11,402.86 L704.50,402.86 L704.89,402.86 L705.27,402.86 L705.66,402.86 L706.05,402.86 L706.44,402.86 L706.83,402.86 L707.21,402.86 L707.60,402.86 L707.99,402.86 L708.38,402.86 L708.76,402.86 L709.15,402.86 L709.54,402.86 L709.92,402.86 L710.31,402.86 L710.70,402.86 L711.09,402.86 L711.48,402.86 L711.86,402.86 L712.25,402.86 L712.64,402.86 L713.02,402.86 L713.41,402.86 L713.80,402.86 L714.19,402.86 L714.57,402.86 L714.96,402.86 L715.35,402.86 L715.74,402.86 L716.12,402.86 L716.51,402.86 L716.90,402.86 L717.29,402.86 L717.67,402.86 L718.06,402.86 L718.45,402.86 L718.84,402.86 L719.23,402.86 L719.61,402.86 L720.00,402.86" fill="none" stroke="#ff0000" stroke-width="1.39"/><path d="M100,540 L371.5,441.25 L448.5,387 L720,296.5" fill="none" stroke="#00bfbf" stroke-width="1.39"/></g><path d="M100.5,540.5 v-6.2 M100.5,60.5 v6.2 M178.5,540.5 v-6.2 M178.5,60.5 v6.2 M255.5,540.5 v-6.2 M255.5,60.5 v6.2 M333.5,540.5 v-6.2 M333.5,60.5 v6.2 M410.5,540.5 v-6.2 M410.5,60.5 v6.2 M488.5,540.5 v-6.2 M488.5,60.5 v6.2 M565.5,540.5 v-6.2 M565.5,60.5 v6.2 M643.5,540.5 v-6.2 M643.5,60.5 v6.2 M720.5,540.5 v-6.2 M720.5,60.5 v6.2 M100.5,540.5 h6.2 M720.5,540.5 h-6.2 M100.5,471.5 h6.2 M720.5,471.5 h-6.2 M100.5,403.5 h6.2 M720.5,403.5 h-6.2 M100.5,334.5 h6.2 M720.5,334.5 h-6.2 M100.5,266.5 h6.2 M720.5,266.5 h-6.2 M100.5,197.5 h6.2 M720.5,197.5 h-6.2 M100.5,129.5 h6.2 M720.5,129.5 h-6.2 M100.5,60.5 h6.2 M720.5,60.5 h-6.2" stroke="#333" stroke-width="1" fill="none"/><path d="M100.5,60.5 H720.5 V540.5 H100.5 Z" fill="none" stroke="#000" stroke-width="1"/><text x="55.36" y="545.40" font-size="17.8" textLength="11.95" lengthAdjust="spacingAndGlyphs" fill="#000" font-family="'Liberation Sans', sans-serif">−</text><text x="68.68" y="544.50" font-size="17.8" textLength="9.25" lengthAdjust="spacingAndGlyphs" fill="#000" font-family="'Liberation Sans', sans-serif">0</text><text x="78.44" y="544.50" font-size="17.8" textLength="4.69" lengthAdjust="spacingAndGlyphs" fill="#000" font-family="'Liberation Sans', sans-serif">.</text><text x="83.51" y="544.50" font-size="17.8" textLength="9.67" lengthAdjust="spacingAndGlyphs" fill="#000" font-family="'Liberation Sans', sans-serif">4</text><text x="55.36" y="476.40" font-size="17.8" textLength="11.95" lengthAdjust="spacingAndGlyphs" fill="#000" font-family="'Liberation Sans', sans-serif">−</text><text x="68.68" y="475.50" font-size="17.8" textLength="9.25" lengthAdjust="spacingAndGlyphs" fill="#000" font-family="'Liberation Sans', sans-serif">0</text><text x="78.44" y="475.50" font-size="17.8" textLength="4.69" lengthAdjust="spacingAndGlyphs" fill="#000" font-family="'Liberation Sans', sans-serif">.</text><text x="83.29" y="475.50" font-size="17.8" textLength="9.11" lengthAdjust="spacingAndGlyphs" fill="#000" font-family="'Liberation Sans', sans-serif">2</text><text x="68.68" y="407.50" font-size="17.8" textLength="9.25" lengthAdjust="spacingAndGlyphs" fill="#000" font-family="'Liberation Sans', sans-serif">0</text><text x="78.44" y="407.50" font-size="17.8" textLength="4.69" lengthAdjust="spacingAndGlyphs" fill="#000" font-family="'Liberation Sans', sans-serif">.</text><text x="83.68" y="407.50" font-size="17.8" textLength="9.25" lengthAdjust="spacingAndGlyphs" fill="#000" font-family="'Liberation Sans', sans-serif">0</text><text x="68.68" y="338.50" font-size="17.8" textLength="9.25" lengthAdjust="spacingAndGlyphs" fill="#000" font-family="'Liberation Sans', sans-serif">0</text><text x="78.44" y="338.50" font-size="17.8" textLength="4.69" lengthAdjust="spacingAndGlyphs" fill="#000" font-family="'Liberation Sans', sans-serif">.</text><text x="83.29" y="338.50" font-size="17.8" textLength="9.11" lengthAdjust="spacingAndGlyphs" fill="#000" font-family="'Liberation Sans', sans-serif">2</text><text x="68.68" y="270.50" font-size="17.8" textLength="9.25" lengthAdjust="spacingAndGlyphs" fill="#000" font-family="'Liberation Sans', sans-serif">0</text><text x="78.44" y="270.50" font-size="17.8" textLength="4.69" lengthAdjust="spacingAndGlyphs" fill="#000" font-family="'Liberation Sans', sans-serif">.</text><text x="83.51" y="270.50" font-size="17.8" textLength="9.67" lengthAdjust="spacingAndGlyphs" fill="#000" font-family="'Liberation Sans', sans-serif">4</text><text x="68.68" y="201.50" font-size="17.8" textLength="9.25" lengthAdjust="spacingAndGlyphs" fill="#000" font-family="'Liberation Sans', sans-serif">0</text><text x="78.44" y="201.50" font-size="17.8" textLength="4.69" lengthAdjust="spacingAndGlyphs" fill="#000" font-family="'Liberation Sans', sans-serif">.</text><text x="82.88" y="201.50" font-size="17.8" textLength="10.66" lengthAdjust="spacingAndGlyphs" fill="#000" font-family="'Liberation Sans', sans-serif">6</text><text x="68.68" y="133.50" font-size="17.8" textLength="9.25" lengthAdjust="spacingAndGlyphs" fill="#000" font-family="'Liberation Sans', sans-serif">0</text><text x="78.44" y="133.50" font-size="17.8" textLength="4.69" lengthAdjust="spacingAndGlyphs" fill="#000" font-family="'Liberation Sans', sans-serif">.</text><text x="82.92" y="133.50" font-size="17.8" textLength="9.62" lengthAdjust="spacingAndGlyphs" fill="#000" font-family="'Liberation Sans', sans-serif">8</text><text x="69.24" y="64.50" font-size="17.8" textLength="9.11" lengthAdjust="spacingAndGlyphs" fill="#000" font-family="'Liberation Sans', sans-serif">1</text><text x="78.44" y="64.50" font-size="17.8" textLength="4.69" lengthAdjust="spacingAndGlyphs" fill="#000" font-family="'Liberation Sans', sans-serif">.</text><text x="83.68" y="64.50" font-size="17.8" textLength="9.25" lengthAdjust="spacingAndGlyphs" fill="#000" font-family="'Liberation Sans', sans-serif">0</text><text x="89.36" y="560.40" font-size="17.8" textLength="11.95" lengthAdjust="spacingAndGlyphs" fill="#000" font-family="'Liberation Sans', sans-serif">−</text><text x="101.92" y="559.50" font-size="17.8" textLength="9.62" lengthAdjust="spacingAndGlyphs" fill="#000" font-family="'Liberation Sans', sans-serif">8</text><text x="166.36" y="560.40" font-size="17.8" textLength="11.95" lengthAdjust="spacingAndGlyphs" fill="#000" font-family="'Liberation Sans', sans-serif">−</text><text x="178.88" y="559.50" font-size="17.8" textLength="10.66" lengthAdjust="spacingAndGlyphs" fill="#000" font-family="'Liberation Sans', sans-serif">6</text><text x="244.36" y="560.40" font-size="17.8" textLength="11.95" lengthAdjust="spacingAndGlyphs" fill="#000" font-family="'Liberation Sans', sans-serif">−</text><text x="257.51" y="559.50" font-size="17.8" textLength="9.67" lengthAdjust="spacingAndGlyphs" fill="#000" font-family="'Liberation Sans', sans-serif">4</text><text x="321.36" y="560.40" font-size="17.8" textLength="11.95" lengthAdjust="spacingAndGlyphs" fill="#000" font-family="'Liberation Sans', sans-serif">−</text><text x="334.29" y="559.50" font-size="17.8" textLength="9.11" lengthAdjust="spacingAndGlyphs" fill="#000" font-family="'Liberation Sans', sans-serif">2</text><text x="405.68" y="559.50" font-size="17.8" textLength="9.25" lengthAdjust="spacingAndGlyphs" fill="#000" font-family="'Liberation Sans', sans-serif">0</text><text x="482.06" y="559.50" font-size="17.8" textLength="9.11" lengthAdjust="spacingAndGlyphs" fill="#000" font-family="'Liberation Sans', sans-serif">2</text><text x="561.68" y="559.50" font-size="17.8" textLength="9.11" lengthAdjust="spacingAndGlyphs" fill="#000" font-family="'Liberation Sans', sans-serif">4</text><text x="636.66" y="559.50" font-size="17.8" textLength="10.53" lengthAdjust="spacingAndGlyphs" fill="#000" font-family="'Liberation Sans', sans-serif">6</text><text x="714.92" y="559.50" font-size="17.8" textLength="9.62" lengthAdjust="spacingAndGlyphs" fill="#000" font-family="'Liberation Sans', sans-serif">8</text><rect x="453.5" y="70.5" width="257" height="121" fill="#fff" stroke="#000" stroke-width="1"/><path d="M466.75,86.50 H496.1" stroke="#0000ff" stroke-width="1.39"/><text x="517.61" y="92.80" font-size="20" textLength="14.41" lengthAdjust="spacingAndGlyphs" fill="#000" font-family="'Liberation Sans', sans-serif">D</text><text x="531.97" y="92.80" font-size="20" textLength="12.34" lengthAdjust="spacingAndGlyphs" fill="#000" font-family="'Liberation Sans', sans-serif">e</text><text x="544.40" y="92.80" font-size="20" textLength="12.57" lengthAdjust="spacingAndGlyphs" fill="#000" font-family="'Liberation Sans', sans-serif">n</text><text x="557.14" y="92.80" font-size="20" textLength="10.47" lengthAdjust="spacingAndGlyphs" fill="#000" font-family="'Liberation Sans', sans-serif">s</text><text x="568.06" y="92.80" font-size="20" textLength="4.09" lengthAdjust="spacingAndGlyphs" fill="#000" font-family="'Liberation Sans', sans-serif">i</text><text x="574.03" y="92.80" font-size="20" textLength="6.39" lengthAdjust="spacingAndGlyphs" fill="#000" font-family="'Liberation Sans', sans-serif">t</text><text x="581.70" y="92.80" font-size="20" textLength="11.06" lengthAdjust="spacingAndGlyphs" fill="#000" font-family="'Liberation Sans', sans-serif">y</text><text x="598.98" y="92.80" font-size="20" textLength="11.92" lengthAdjust="spacingAndGlyphs" fill="#000" font-family="'Liberation Sans', sans-serif">o</text><text x="611.74" y="92.80" font-size="20" textLength="6.39" lengthAdjust="spacingAndGlyphs" fill="#000" font-family="'Liberation Sans', sans-serif">f</text><text x="625.15" y="92.80" font-size="20" textLength="7.66" lengthAdjust="spacingAndGlyphs" fill="#000" font-family="'Liberation Sans', sans-serif">r</text><text x="633.25" y="92.80" font-size="20" textLength="11.22" lengthAdjust="spacingAndGlyphs" fill="#000" font-family="'Liberation Sans', sans-serif">e</text><text x="645.21" y="92.80" font-size="20" textLength="10.23" lengthAdjust="spacingAndGlyphs" fill="#000" font-family="'Liberation Sans', sans-serif">a</text><text x="657.82" y="92.80" font-size="20" textLength="4.09" lengthAdjust="spacingAndGlyphs" fill="#000" font-family="'Liberation Sans', sans-serif">l</text><path d="M466.75,115.40 H496.1" stroke="#008000" stroke-width="1.39"/><text x="517.61" y="121.77" font-size="20" textLength="14.41" lengthAdjust="spacingAndGlyphs" fill="#000" font-family="'Liberation Sans', sans-serif">D</text><text x="531.97" y="121.77" font-size="20" textLength="12.34" lengthAdjust="spacingAndGlyphs" fill="#000" font-family="'Liberation Sans', sans-serif">e</text><text x="544.40" y="121.77" font-size="20" textLength="12.57" lengthAdjust="spacingAndGlyphs" fill="#000" font-family="'Liberation Sans', sans-serif">n</text><text x="557.14" y="121.77" font-size="20" textLength="10.47" lengthAdjust="spacingAndGlyphs" fill="#000" font-family="'Liberation Sans', sans-serif">s</text><text x="568.06" y="121.77" font-size="20" textLength="4.09" lengthAdjust="spacingAndGlyphs" fill="#000" font-family="'Liberation Sans', sans-serif">i</text><text x="574.03" y="121.77" font-size="20" textLength="6.39" lengthAdjust="spacingAndGlyphs" fill="#000" font-family="'Liberation Sans', sans-serif">t</text><text x="581.70" y="121.77" font-size="20" textLength="11.06" lengthAdjust="spacingAndGlyphs" fill="#000" font-family="'Liberation Sans', sans-serif">y</text><text x="598.98" y="121.77" font-size="20" textLength="11.92" lengthAdjust="spacingAndGlyphs" fill="#000" font-family="'Liberation Sans', sans-serif">o</text><text x="611.74" y="121.77" font-size="20" textLength="6.39" lengthAdjust="spacingAndGlyphs" fill="#000" font-family="'Liberation Sans', sans-serif">f</text><text x="624.93" y="121.77" font-size="20" textLength="6.39" lengthAdjust="spacingAndGlyphs" fill="#000" font-family="'Liberation Sans', sans-serif">f</text><text x="632.07" y="121.77" font-size="20" textLength="10.23" lengthAdjust="spacingAndGlyphs" fill="#000" font-family="'Liberation Sans', sans-serif">a</text><text x="644.55" y="121.77" font-size="20" textLength="11.15" lengthAdjust="spacingAndGlyphs" fill="#000" font-family="'Liberation Sans', sans-serif">k</text><text x="655.35" y="121.77" font-size="20" textLength="12.34" lengthAdjust="spacingAndGlyphs" fill="#000" font-family="'Liberation Sans', sans-serif">e</text><path d="M466.75,144.30 H496.1" stroke="#ff0000" stroke-width="1.39"/><text x="516.74" y="150.74" font-size="20" textLength="15.79" lengthAdjust="spacingAndGlyphs" fill="#000" font-family="'Liberation Sans', sans-serif">G</text><text x="532.31" y="150.74" font-size="20" textLength="14.20" lengthAdjust="spacingAndGlyphs" fill="#000" font-family="'Liberation Sans', sans-serif">A</text><text x="546.19" y="150.74" font-size="20" textLength="14.37" lengthAdjust="spacingAndGlyphs" fill="#000" font-family="'Liberation Sans', sans-serif">N</text><text x="568.11" y="150.74" font-size="20" textLength="14.41" lengthAdjust="spacingAndGlyphs" fill="#000" font-family="'Liberation Sans', sans-serif">D</text><text x="582.69" y="150.74" font-size="20" textLength="4.60" lengthAdjust="spacingAndGlyphs" fill="#000" font-family="'Liberation Sans', sans-serif">i</text><text x="588.37" y="150.74" font-size="20" textLength="10.47" lengthAdjust="spacingAndGlyphs" fill="#000" font-family="'Liberation Sans', sans-serif">s</text><text x="599.41" y="150.74" font-size="20" textLength="10.44" lengthAdjust="spacingAndGlyphs" fill="#000" font-family="'Liberation Sans', sans-serif">c</text><text x="610.18" y="150.74" font-size="20" textLength="7.66" lengthAdjust="spacingAndGlyphs" fill="#000" font-family="'Liberation Sans', sans-serif">r</text><text x="619.01" y="150.74" font-size="20" textLength="4.09" lengthAdjust="spacingAndGlyphs" fill="#000" font-family="'Liberation Sans', sans-serif">i</text><text x="623.67" y="150.74" font-size="20" textLength="19.16" lengthAdjust="spacingAndGlyphs" fill="#000" font-family="'Liberation Sans', sans-serif">m</text><text x="643.10" y="150.74" font-size="20" textLength="5.11" lengthAdjust="spacingAndGlyphs" fill="#000" font-family="'Liberation Sans', sans-serif">i</text><text x="648.45" y="150.74" font-size="20" textLength="12.42" lengthAdjust="spacingAndGlyphs" fill="#000" font-family="'Liberation Sans', sans-serif">n</text><text x="661.46" y="150.74" font-size="20" textLength="10.23" lengthAdjust="spacingAndGlyphs" fill="#000" font-family="'Liberation Sans', sans-serif">a</text><text x="673.83" y="150.74" font-size="20" textLength="6.39" lengthAdjust="spacingAndGlyphs" fill="#000" font-family="'Liberation Sans', sans-serif">t</text><text x="681.19" y="150.74" font-size="20" textLength="11.92" lengthAdjust="spacingAndGlyphs" fill="#000" font-family="'Liberation Sans', sans-serif">o</text><text x="693.67" y="150.74" font-size="20" textLength="7.66" lengthAdjust="spacingAndGlyphs" fill="#000" font-family="'Liberation Sans', sans-serif">r</text><path d="M466.75,173.20 H496.1" stroke="#00bfbf" stroke-width="1.39"/><text x="517.27" y="179.71" font-size="20" textLength="18.57" lengthAdjust="spacingAndGlyphs" fill="#000" font-family="'Liberation Sans', sans-serif">W</text><text x="537.09" y="179.71" font-size="20" textLength="14.66" lengthAdjust="spacingAndGlyphs" fill="#000" font-family="'Liberation Sans', sans-serif">G</text><text x="551.65" y="179.71" font-size="20" textLength="14.20" lengthAdjust="spacingAndGlyphs" fill="#000" font-family="'Liberation Sans', sans-serif">A</text><text x="566.51" y="179.71" font-size="20" textLength="14.37" lengthAdjust="spacingAndGlyphs" fill="#000" font-family="'Liberation Sans', sans-serif">N</text><text x="587.46" y="179.71" font-size="20" textLength="13.29" lengthAdjust="spacingAndGlyphs" fill="#000" font-family="'Liberation Sans', sans-serif">C</text><text x="601.78" y="179.71" font-size="20" textLength="7.66" lengthAdjust="spacingAndGlyphs" fill="#000" font-family="'Liberation Sans', sans-serif">r</text><text x="610.08" y="179.71" font-size="20" textLength="4.09" lengthAdjust="spacingAndGlyphs" fill="#000" font-family="'Liberation Sans', sans-serif">i</text><text x="615.51" y="179.71" font-size="20" textLength="6.39" lengthAdjust="spacingAndGlyphs" fill="#000" font-family="'Liberation Sans', sans-serif">t</text><text x="623.48" y="179.71" font-size="20" textLength="4.60" lengthAdjust="spacingAndGlyphs" fill="#000" font-family="'Liberation Sans', sans-serif">i</text><text x="628.03" y="179.71" font-size="20" textLength="10.44" lengthAdjust="spacingAndGlyphs" fill="#000" font-family="'Liberation Sans', sans-serif">c</text><text x="112.02" y="444.60" font-size="23.4" textLength="172.27" lengthAdjust="spacingAndGlyphs" fill="#4cc6f5" font-family="'Liberation Sans', sans-serif">Linear gradients</text><text x="137.37" y="474.20" font-size="23.4" textLength="122.02" lengthAdjust="spacingAndGlyphs" fill="#4cc6f5" font-family="'Liberation Sans', sans-serif">in a WGAN</text><text x="456.68" y="483.20" font-size="23.4" textLength="207.37" lengthAdjust="spacingAndGlyphs" fill="#fc2a22" font-family="'Liberation Sans', sans-serif">Vanishing gradients</text><text x="479.78" y="511.60" font-size="23.4" textLength="159.77" lengthAdjust="spacingAndGlyphs" fill="#fc2a22" font-family="'Liberation Sans', sans-serif">in regular GAN</text><g filter="url(#sh)" fill="#3a3a3a" stroke="#3a3a3a"><path d="M295.9,438.4 L324,447" stroke-width="1.8" fill="none"/><path d="M330.6,449.4 L323.4,442.5 L320.3,451.25 Z" stroke-width="0.5"/><path d="M566.8,459.5 L578.5,422" stroke-width="1.8" fill="none"/><path d="M581.8,414.5 L574.5,421.5 L583.5,424.5 Z" stroke-width="0.5"/></g></svg></body></html>
